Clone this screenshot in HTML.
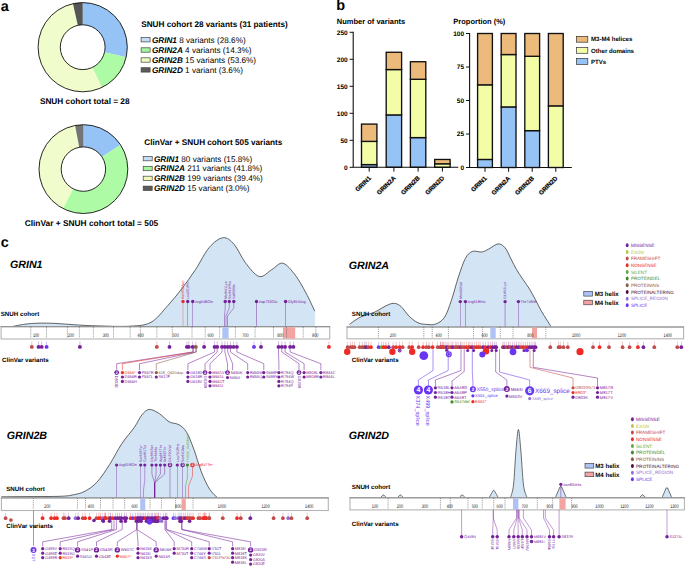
<!DOCTYPE html>
<html><head><meta charset="utf-8"><style>
html,body{margin:0;padding:0;background:#fff;overflow:hidden;width:685px;height:567px;}
svg{display:block;}
text{font-family:"Liberation Sans",sans-serif;text-rendering:geometricPrecision;}
</style></head><body>
<svg width="685" height="567" viewBox="0 0 685 567" font-family="Liberation Sans, sans-serif">
<rect width="685" height="567" fill="#fff"/>
<text x="0.70" y="10.80" font-size="14.5" font-weight="bold" fill="#000" >a</text>
<path d="M82.70,2.60 A44.6,44.6 0 0 1 126.16,57.20 L104.53,52.22 A22.4,22.4 0 0 0 82.70,24.80 Z" fill="#96c3f5"/>
<path d="M126.16,57.20 A44.6,44.6 0 0 1 101.94,87.44 L92.36,67.41 A22.4,22.4 0 0 0 104.53,52.22 Z" fill="#aefba6"/>
<path d="M101.94,87.44 A44.6,44.6 0 1 1 72.97,3.67 L77.81,25.34 A22.4,22.4 0 1 0 92.36,67.41 Z" fill="#f0fccb"/>
<path d="M72.97,3.67 A44.6,44.6 0 0 1 82.70,2.60 L82.70,24.80 A22.4,22.4 0 0 0 77.81,25.34 Z" fill="#555555"/>
<circle cx="82.7" cy="47.2" r="44.6" fill="none" stroke="#111" stroke-width="0.9"/>
<circle cx="82.7" cy="47.2" r="22.4" fill="none" stroke="#111" stroke-width="0.9"/>
<text x="141.20" y="26.50" font-size="8.2" font-weight="bold" fill="#000" >SNUH cohort 28 variants (31 patients)</text>
<rect x="141.1" y="37.50" width="9" height="4.4" fill="#c6ddf6" stroke="#444" stroke-width="0.7"/>
<text x="151.90" y="42.60" font-size="8.2"><tspan font-weight="bold" font-style="italic">GRIN1</tspan> 8 variants (28.6%)</text>
<rect x="141.1" y="47.80" width="9" height="4.4" fill="#a5f5a0" stroke="#444" stroke-width="0.7"/>
<text x="151.90" y="52.90" font-size="8.2"><tspan font-weight="bold" font-style="italic">GRIN2A</tspan> 4 variants (14.3%)</text>
<rect x="141.1" y="57.80" width="9" height="4.4" fill="#eefabb" stroke="#444" stroke-width="0.7"/>
<text x="151.90" y="62.90" font-size="8.2"><tspan font-weight="bold" font-style="italic">GRIN2B</tspan> 15 variants (53.6%)</text>
<rect x="141.1" y="67.70" width="9" height="4.4" fill="#5a5a5a" stroke="#444" stroke-width="0.7"/>
<text x="151.90" y="72.80" font-size="8.2"><tspan font-weight="bold" font-style="italic">GRIN2D</tspan> 1 variant (3.6%)</text>
<text x="39.90" y="103.70" font-size="8.25" font-weight="bold" fill="#000" >SNUH cohort total = 28</text>
<path d="M83.40,124.70 A44.4,44.4 0 0 1 120.59,144.84 L101.99,156.97 A22.2,22.2 0 0 0 83.40,146.90 Z" fill="#96c3f5"/>
<path d="M120.59,144.84 A44.4,44.4 0 0 1 62.99,208.53 L73.20,188.82 A22.2,22.2 0 0 0 101.99,156.97 Z" fill="#aefba6"/>
<path d="M62.99,208.53 A44.4,44.4 0 0 1 75.08,125.49 L79.24,147.29 A22.2,22.2 0 0 0 73.20,188.82 Z" fill="#f0fccb"/>
<path d="M75.08,125.49 A44.4,44.4 0 0 1 83.40,124.70 L83.40,146.90 A22.2,22.2 0 0 0 79.24,147.29 Z" fill="#747474"/>
<circle cx="83.4" cy="169.1" r="44.4" fill="none" stroke="#111" stroke-width="0.9"/>
<circle cx="83.4" cy="169.1" r="22.2" fill="none" stroke="#111" stroke-width="0.9"/>
<text x="144.30" y="144.60" font-size="8.2" font-weight="bold" fill="#000" >ClinVar + SNUH cohort 505 variants</text>
<rect x="143.2" y="156.40" width="9" height="4.4" fill="#c6ddf6" stroke="#444" stroke-width="0.7"/>
<text x="154.00" y="161.50" font-size="8.2"><tspan font-weight="bold" font-style="italic">GRIN1</tspan> 80 variants (15.8%)</text>
<rect x="143.2" y="166.30" width="9" height="4.4" fill="#a5f5a0" stroke="#444" stroke-width="0.7"/>
<text x="154.00" y="171.40" font-size="8.2"><tspan font-weight="bold" font-style="italic">GRIN2A</tspan> 211 variants (41.8%)</text>
<rect x="143.2" y="176.20" width="9" height="4.4" fill="#eefabb" stroke="#444" stroke-width="0.7"/>
<text x="154.00" y="181.30" font-size="8.2"><tspan font-weight="bold" font-style="italic">GRIN2B</tspan> 199 variants (39.4%)</text>
<rect x="143.2" y="186.10" width="9" height="4.4" fill="#5a5a5a" stroke="#444" stroke-width="0.7"/>
<text x="154.00" y="191.20" font-size="8.2"><tspan font-weight="bold" font-style="italic">GRIN2D</tspan> 15 variant (3.0%)</text>
<text x="24.70" y="226.40" font-size="8.35" font-weight="bold" fill="#000" >ClinVar + SNUH cohort total = 505</text>
<text x="336.20" y="9.90" font-size="14.5" font-weight="bold" fill="#000" >b</text>
<text x="336.80" y="24.10" font-size="7.5" font-weight="bold" fill="#000" >Number of variants</text>
<text x="453.30" y="24.30" font-size="7.5" font-weight="bold" fill="#000" >Proportion (%)</text>
<rect x="361.50" y="164.60" width="15.40" height="2.70" fill="#96c3f5" stroke="#111" stroke-width="1.35"/>
<rect x="361.50" y="141.38" width="15.40" height="23.22" fill="#f2fda6" stroke="#111" stroke-width="1.35"/>
<rect x="361.50" y="124.10" width="15.40" height="17.28" fill="#ecbb7c" stroke="#111" stroke-width="1.35"/>
<rect x="386.20" y="114.92" width="15.40" height="52.38" fill="#96c3f5" stroke="#111" stroke-width="1.35"/>
<rect x="386.20" y="69.56" width="15.40" height="45.36" fill="#f2fda6" stroke="#111" stroke-width="1.35"/>
<rect x="386.20" y="52.28" width="15.40" height="17.28" fill="#ecbb7c" stroke="#111" stroke-width="1.35"/>
<rect x="410.40" y="137.60" width="15.40" height="29.70" fill="#96c3f5" stroke="#111" stroke-width="1.35"/>
<rect x="410.40" y="79.28" width="15.40" height="58.32" fill="#f2fda6" stroke="#111" stroke-width="1.35"/>
<rect x="410.40" y="61.73" width="15.40" height="17.55" fill="#ecbb7c" stroke="#111" stroke-width="1.35"/>
<rect x="434.70" y="163.79" width="15.40" height="3.51" fill="#f2fda6" stroke="#111" stroke-width="1.35"/>
<rect x="434.70" y="159.47" width="15.40" height="4.32" fill="#ecbb7c" stroke="#111" stroke-width="1.35"/>
<path d="M353.2,31.80000000000001 V167.3 H458.3" fill="none" stroke="#111" stroke-width="1.1"/>
<line x1="349.59999999999997" y1="167.30" x2="353.2" y2="167.30" stroke="#111" stroke-width="1"/>
<text x="347.70" y="169.65" font-size="6.5" font-weight="bold" text-anchor="end" fill="#000" >0</text>
<line x1="349.59999999999997" y1="140.30" x2="353.2" y2="140.30" stroke="#111" stroke-width="1"/>
<text x="347.70" y="142.65" font-size="6.5" font-weight="bold" text-anchor="end" fill="#000" >50</text>
<line x1="349.59999999999997" y1="113.30" x2="353.2" y2="113.30" stroke="#111" stroke-width="1"/>
<text x="347.70" y="115.65" font-size="6.5" font-weight="bold" text-anchor="end" fill="#000" >100</text>
<line x1="349.59999999999997" y1="86.30" x2="353.2" y2="86.30" stroke="#111" stroke-width="1"/>
<text x="347.70" y="88.65" font-size="6.5" font-weight="bold" text-anchor="end" fill="#000" >150</text>
<line x1="349.59999999999997" y1="59.30" x2="353.2" y2="59.30" stroke="#111" stroke-width="1"/>
<text x="347.70" y="61.65" font-size="6.5" font-weight="bold" text-anchor="end" fill="#000" >200</text>
<line x1="349.59999999999997" y1="32.30" x2="353.2" y2="32.30" stroke="#111" stroke-width="1"/>
<text x="347.70" y="34.65" font-size="6.5" font-weight="bold" text-anchor="end" fill="#000" >250</text>
<line x1="369.2" y1="167.3" x2="369.2" y2="171.60000000000002" stroke="#111" stroke-width="1"/>
<text transform="translate(371.40,178.50) rotate(-45)" font-size="6.3" font-weight="bold" text-anchor="end" stroke="#000" stroke-width="0.18">GRIN1</text>
<line x1="393.9" y1="167.3" x2="393.9" y2="171.60000000000002" stroke="#111" stroke-width="1"/>
<text transform="translate(396.10,178.50) rotate(-45)" font-size="6.3" font-weight="bold" text-anchor="end" stroke="#000" stroke-width="0.18">GRIN2A</text>
<line x1="418.1" y1="167.3" x2="418.1" y2="171.60000000000002" stroke="#111" stroke-width="1"/>
<text transform="translate(420.30,178.50) rotate(-45)" font-size="6.3" font-weight="bold" text-anchor="end" stroke="#000" stroke-width="0.18">GRIN2B</text>
<line x1="442.4" y1="167.3" x2="442.4" y2="171.60000000000002" stroke="#111" stroke-width="1"/>
<text transform="translate(444.60,178.50) rotate(-45)" font-size="6.3" font-weight="bold" text-anchor="end" stroke="#000" stroke-width="0.18">GRIN2D</text>
<rect x="477.60" y="159.46" width="14.80" height="8.04" fill="#96c3f5" stroke="#111" stroke-width="1.35"/>
<rect x="477.60" y="84.82" width="14.80" height="74.64" fill="#f2fda6" stroke="#111" stroke-width="1.35"/>
<rect x="477.60" y="33.50" width="14.80" height="51.32" fill="#ecbb7c" stroke="#111" stroke-width="1.35"/>
<rect x="501.20" y="106.93" width="14.80" height="60.57" fill="#96c3f5" stroke="#111" stroke-width="1.35"/>
<rect x="501.20" y="54.54" width="14.80" height="52.39" fill="#f2fda6" stroke="#111" stroke-width="1.35"/>
<rect x="501.20" y="33.50" width="14.80" height="21.04" fill="#ecbb7c" stroke="#111" stroke-width="1.35"/>
<rect x="524.80" y="130.65" width="14.80" height="36.85" fill="#96c3f5" stroke="#111" stroke-width="1.35"/>
<rect x="524.80" y="56.28" width="14.80" height="74.37" fill="#f2fda6" stroke="#111" stroke-width="1.35"/>
<rect x="524.80" y="33.50" width="14.80" height="22.78" fill="#ecbb7c" stroke="#111" stroke-width="1.35"/>
<rect x="548.40" y="105.86" width="14.80" height="61.64" fill="#f2fda6" stroke="#111" stroke-width="1.35"/>
<rect x="548.40" y="33.50" width="14.80" height="72.36" fill="#ecbb7c" stroke="#111" stroke-width="1.35"/>
<path d="M469.6,33.0 V167.5 H571.8" fill="none" stroke="#111" stroke-width="1.1"/>
<line x1="466.0" y1="167.50" x2="469.6" y2="167.50" stroke="#111" stroke-width="1"/>
<text x="464.10" y="169.85" font-size="6.5" font-weight="bold" text-anchor="end" fill="#000" >0</text>
<line x1="466.0" y1="134.00" x2="469.6" y2="134.00" stroke="#111" stroke-width="1"/>
<text x="464.10" y="136.35" font-size="6.5" font-weight="bold" text-anchor="end" fill="#000" >25</text>
<line x1="466.0" y1="100.50" x2="469.6" y2="100.50" stroke="#111" stroke-width="1"/>
<text x="464.10" y="102.85" font-size="6.5" font-weight="bold" text-anchor="end" fill="#000" >50</text>
<line x1="466.0" y1="67.00" x2="469.6" y2="67.00" stroke="#111" stroke-width="1"/>
<text x="464.10" y="69.35" font-size="6.5" font-weight="bold" text-anchor="end" fill="#000" >75</text>
<line x1="466.0" y1="33.50" x2="469.6" y2="33.50" stroke="#111" stroke-width="1"/>
<text x="464.10" y="35.85" font-size="6.5" font-weight="bold" text-anchor="end" fill="#000" >100</text>
<line x1="485.0" y1="167.5" x2="485.0" y2="171.8" stroke="#111" stroke-width="1"/>
<text transform="translate(487.20,178.70) rotate(-45)" font-size="6.3" font-weight="bold" text-anchor="end" stroke="#000" stroke-width="0.18">GRIN1</text>
<line x1="508.6" y1="167.5" x2="508.6" y2="171.8" stroke="#111" stroke-width="1"/>
<text transform="translate(510.80,178.70) rotate(-45)" font-size="6.3" font-weight="bold" text-anchor="end" stroke="#000" stroke-width="0.18">GRIN2A</text>
<line x1="532.2" y1="167.5" x2="532.2" y2="171.8" stroke="#111" stroke-width="1"/>
<text transform="translate(534.40,178.70) rotate(-45)" font-size="6.3" font-weight="bold" text-anchor="end" stroke="#000" stroke-width="0.18">GRIN2B</text>
<line x1="555.8" y1="167.5" x2="555.8" y2="171.8" stroke="#111" stroke-width="1"/>
<text transform="translate(558.00,178.70) rotate(-45)" font-size="6.3" font-weight="bold" text-anchor="end" stroke="#000" stroke-width="0.18">GRIN2D</text>
<rect x="576.6" y="36.40" width="11.2" height="5.8" fill="#ecbb7c" stroke="#333" stroke-width="0.7"/>
<text x="591.00" y="41.40" font-size="6.1" font-weight="bold" fill="#000" >M3-M4 helices</text>
<rect x="576.6" y="47.50" width="11.2" height="5.8" fill="#f2fda6" stroke="#333" stroke-width="0.7"/>
<text x="591.00" y="52.50" font-size="6.1" font-weight="bold" fill="#000" >Other domains</text>
<rect x="576.6" y="58.60" width="11.2" height="5.8" fill="#96c3f5" stroke="#333" stroke-width="0.7"/>
<text x="591.00" y="63.60" font-size="6.1" font-weight="bold" fill="#000" >PTVs</text>
<text x="0.70" y="246.70" font-size="14.5" font-weight="bold" fill="#000" >c</text>
<path d="M13.00,326.40 C15.00,326.03 20.83,324.73 25.00,324.20 C29.17,323.67 33.00,323.33 38.00,323.20 C43.00,323.07 48.83,323.13 55.00,323.40 C61.17,323.67 68.33,324.40 75.00,324.80 C81.67,325.20 85.83,325.57 95.00,325.80 C104.17,326.03 120.67,326.78 130.00,326.20 C139.33,325.62 144.72,325.72 151.00,322.30 C157.28,318.88 162.60,311.25 167.70,305.70 C172.80,300.15 176.97,295.02 181.60,289.00 C186.23,282.98 190.88,276.53 195.50,269.60 C200.12,262.67 204.68,252.72 209.30,247.40 C213.92,242.08 219.03,238.17 223.20,237.70 C227.37,237.23 230.60,240.43 234.30,244.60 C238.00,248.77 241.23,257.38 245.40,262.70 C249.57,268.02 254.90,275.35 259.30,276.50 C263.70,277.65 267.87,271.82 271.80,269.60 C275.73,267.38 278.98,262.27 282.90,263.20 C286.82,264.13 291.45,270.23 295.30,275.20 C299.15,280.17 302.75,287.00 306.00,293.00 C309.25,299.00 313.33,308.17 314.80,311.20 L314.80,326.40 L13.00,326.40 Z" fill="#d3e5f5" stroke="none"/>
<path d="M13.00,326.40 C15.00,326.03 20.83,324.73 25.00,324.20 C29.17,323.67 33.00,323.33 38.00,323.20 C43.00,323.07 48.83,323.13 55.00,323.40 C61.17,323.67 68.33,324.40 75.00,324.80 C81.67,325.20 85.83,325.57 95.00,325.80 C104.17,326.03 120.67,326.78 130.00,326.20 C139.33,325.62 144.72,325.72 151.00,322.30 C157.28,318.88 162.60,311.25 167.70,305.70 C172.80,300.15 176.97,295.02 181.60,289.00 C186.23,282.98 190.88,276.53 195.50,269.60 C200.12,262.67 204.68,252.72 209.30,247.40 C213.92,242.08 219.03,238.17 223.20,237.70 C227.37,237.23 230.60,240.43 234.30,244.60 C238.00,248.77 241.23,257.38 245.40,262.70 C249.57,268.02 254.90,275.35 259.30,276.50 C263.70,277.65 267.87,271.82 271.80,269.60 C275.73,267.38 278.98,262.27 282.90,263.20 C286.82,264.13 291.45,270.23 295.30,275.20 C299.15,280.17 302.75,287.00 306.00,293.00 C309.25,299.00 313.33,308.17 314.80,311.20" fill="none" stroke="#333" stroke-width="0.75"/>
<line x1="314.8" y1="311.2" x2="314.8" y2="326.4" stroke="#d3e5f5" stroke-width="0.5"/>
<rect x="1.10" y="326.70" width="328.60" height="12.30" fill="#fff" stroke="#b4b4b4" stroke-width="1.1"/>
<line x1="0.60" y1="326.70" x2="330.20" y2="326.70" stroke="#8c8c8c" stroke-width="1.0"/>
<rect x="222.30" y="327.20" width="6.30" height="11.40" fill="#aec2f7"/>
<rect x="283.00" y="327.20" width="12.20" height="11.40" fill="#f4a3a3"/>
<line x1="30.80" y1="326.90" x2="30.80" y2="337.80" stroke="#444" stroke-width="0.6" stroke-dasharray="0.9,1.0"/>
<line x1="46.50" y1="326.90" x2="46.50" y2="337.80" stroke="#444" stroke-width="0.6" stroke-dasharray="0.9,1.0"/>
<line x1="67.40" y1="326.90" x2="67.40" y2="337.80" stroke="#444" stroke-width="0.6" stroke-dasharray="0.9,1.0"/>
<line x1="79.40" y1="326.90" x2="79.40" y2="337.80" stroke="#444" stroke-width="0.6" stroke-dasharray="0.9,1.0"/>
<line x1="93.40" y1="326.90" x2="93.40" y2="337.80" stroke="#444" stroke-width="0.6" stroke-dasharray="0.9,1.0"/>
<line x1="113.50" y1="326.90" x2="113.50" y2="337.80" stroke="#444" stroke-width="0.6" stroke-dasharray="0.9,1.0"/>
<line x1="130.20" y1="326.90" x2="130.20" y2="337.80" stroke="#444" stroke-width="0.6" stroke-dasharray="0.9,1.0"/>
<line x1="140.40" y1="326.90" x2="140.40" y2="337.80" stroke="#444" stroke-width="0.6" stroke-dasharray="0.9,1.0"/>
<line x1="156.90" y1="326.90" x2="156.90" y2="337.80" stroke="#444" stroke-width="0.6" stroke-dasharray="0.9,1.0"/>
<line x1="172.30" y1="326.90" x2="172.30" y2="337.80" stroke="#444" stroke-width="0.6" stroke-dasharray="0.9,1.0"/>
<line x1="192.00" y1="326.90" x2="192.00" y2="337.80" stroke="#444" stroke-width="0.6" stroke-dasharray="0.9,1.0"/>
<line x1="205.20" y1="326.90" x2="205.20" y2="337.80" stroke="#444" stroke-width="0.6" stroke-dasharray="0.9,1.0"/>
<line x1="219.60" y1="326.90" x2="219.60" y2="337.80" stroke="#444" stroke-width="0.6" stroke-dasharray="0.9,1.0"/>
<line x1="235.40" y1="326.90" x2="235.40" y2="337.80" stroke="#444" stroke-width="0.6" stroke-dasharray="0.9,1.0"/>
<line x1="255.10" y1="326.90" x2="255.10" y2="337.80" stroke="#444" stroke-width="0.6" stroke-dasharray="0.9,1.0"/>
<line x1="273.50" y1="326.90" x2="273.50" y2="337.80" stroke="#444" stroke-width="0.6" stroke-dasharray="0.9,1.0"/>
<line x1="286.50" y1="326.90" x2="286.50" y2="337.80" stroke="#444" stroke-width="0.6" stroke-dasharray="0.9,1.0"/>
<line x1="303.20" y1="326.90" x2="303.20" y2="337.80" stroke="#444" stroke-width="0.6" stroke-dasharray="0.9,1.0"/>
<line x1="315.90" y1="326.90" x2="315.90" y2="337.80" stroke="#444" stroke-width="0.6" stroke-dasharray="0.9,1.0"/>
<text transform="translate(36.00,336.70) scale(0.72,1)" font-size="5.2" text-anchor="middle" fill="#222">100</text>
<text transform="translate(70.90,336.70) scale(0.72,1)" font-size="5.2" text-anchor="middle" fill="#222">200</text>
<text transform="translate(105.80,336.70) scale(0.72,1)" font-size="5.2" text-anchor="middle" fill="#222">300</text>
<text transform="translate(140.70,336.70) scale(0.72,1)" font-size="5.2" text-anchor="middle" fill="#222">400</text>
<text transform="translate(175.60,336.70) scale(0.72,1)" font-size="5.2" text-anchor="middle" fill="#222">500</text>
<text transform="translate(210.50,336.70) scale(0.72,1)" font-size="5.2" text-anchor="middle" fill="#222">600</text>
<text transform="translate(245.40,336.70) scale(0.72,1)" font-size="5.2" text-anchor="middle" fill="#222">700</text>
<text transform="translate(280.30,336.70) scale(0.72,1)" font-size="5.2" text-anchor="middle" fill="#222">800</text>
<text transform="translate(315.20,336.70) scale(0.72,1)" font-size="5.2" text-anchor="middle" fill="#222">900</text>
<line x1="183" y1="301.5" x2="183" y2="326.4" stroke="#e86060" stroke-width="0.6" opacity="0.75"/>
<line x1="187.7" y1="301.5" x2="187.7" y2="326.4" stroke="#75219a" stroke-width="0.6" opacity="0.75"/>
<line x1="192.7" y1="301.5" x2="192.7" y2="326.4" stroke="#75219a" stroke-width="0.6" opacity="0.75"/>
<line x1="256.5" y1="301.5" x2="256.5" y2="326.4" stroke="#75219a" stroke-width="0.6" opacity="0.75"/>
<line x1="285.6" y1="301.5" x2="285.6" y2="326.4" stroke="#75219a" stroke-width="0.6" opacity="0.75"/>
<path d="M225.2,301.5 V308 L224.5,316 V326.4" fill="none" stroke="#75219a" stroke-width="0.6" opacity="0.75"/>
<path d="M229.3,301.5 V308 L226.0,316 V326.4" fill="none" stroke="#75219a" stroke-width="0.6" opacity="0.75"/>
<path d="M233.8,301.5 V308 L227.5,316 V326.4" fill="none" stroke="#75219a" stroke-width="0.6" opacity="0.75"/>
<circle cx="183" cy="301.5" r="1.7" fill="#ee2b25"/>
<circle cx="187.7" cy="301.5" r="1.7" fill="#75219a"/>
<circle cx="192.7" cy="301.5" r="1.7" fill="#75219a"/>
<circle cx="225.2" cy="301.5" r="1.7" fill="#75219a"/>
<circle cx="229.3" cy="301.5" r="1.7" fill="#75219a"/>
<circle cx="233.8" cy="301.5" r="1.7" fill="#75219a"/>
<circle cx="256.5" cy="301.5" r="1.7" fill="#75219a"/>
<circle cx="285.6" cy="301.5" r="1.7" fill="#75219a"/>
<text transform="translate(184.30,299.00) rotate(-90)" font-size="3.6" fill="#ee2b25">Asn650Asp</text>
<text transform="translate(189.00,299.00) rotate(-90)" font-size="3.6" fill="#75219a">Leu551Pro</text>
<text transform="translate(226.50,299.00) rotate(-90)" font-size="3.6" fill="#75219a">Met641Lys</text>
<text transform="translate(230.60,299.00) rotate(-90)" font-size="3.6" fill="#75219a">Ser642Phe</text>
<text transform="translate(235.10,299.00) rotate(-90)" font-size="3.6" fill="#75219a">Val656Ile</text>
<text x="194.90" y="302.80" font-size="3.8" fill="#75219a" >Arg548Gln</text>
<text x="258.70" y="302.80" font-size="3.8" fill="#75219a" >Asp732Glu</text>
<text x="287.80" y="302.80" font-size="3.8" fill="#75219a" >Gly815Arg</text>
<line x1="31.80" y1="341.40" x2="31.80" y2="346.90" stroke="#c24a4a" stroke-width="0.5" opacity="0.6"/>
<circle cx="31.80" cy="346.90" r="1.95" fill="#c24a4a"/>
<line x1="38.50" y1="341.40" x2="38.50" y2="346.90" stroke="#75219a" stroke-width="0.5" opacity="0.6"/>
<circle cx="38.50" cy="346.90" r="1.95" fill="#75219a"/>
<line x1="41.70" y1="341.40" x2="41.70" y2="346.90" stroke="#75219a" stroke-width="0.5" opacity="0.6"/>
<circle cx="41.70" cy="346.90" r="1.95" fill="#75219a"/>
<line x1="46.60" y1="341.40" x2="46.60" y2="346.90" stroke="#6a35f0" stroke-width="0.5" opacity="0.6"/>
<circle cx="46.60" cy="346.90" r="1.95" fill="#6a35f0"/>
<line x1="79.90" y1="341.40" x2="79.90" y2="346.90" stroke="#75219a" stroke-width="0.5" opacity="0.6"/>
<circle cx="79.90" cy="346.90" r="1.95" fill="#75219a"/>
<line x1="156.80" y1="341.40" x2="156.80" y2="346.90" stroke="#c24a4a" stroke-width="0.5" opacity="0.6"/>
<circle cx="156.80" cy="346.90" r="1.95" fill="#c24a4a"/>
<line x1="169.50" y1="341.40" x2="169.50" y2="346.90" stroke="#75219a" stroke-width="0.5" opacity="0.6"/>
<circle cx="169.50" cy="346.90" r="1.95" fill="#75219a"/>
<line x1="186.90" y1="341.40" x2="186.90" y2="346.90" stroke="#75219a" stroke-width="0.5" opacity="0.6"/>
<circle cx="186.90" cy="346.90" r="1.95" fill="#75219a"/>
<line x1="188.80" y1="341.40" x2="188.80" y2="346.90" stroke="#75219a" stroke-width="0.5" opacity="0.6"/>
<circle cx="188.80" cy="346.90" r="1.95" fill="#75219a"/>
<line x1="192.70" y1="341.40" x2="192.70" y2="346.90" stroke="#75219a" stroke-width="0.5" opacity="0.6"/>
<circle cx="192.70" cy="346.90" r="1.95" fill="#75219a"/>
<line x1="195.80" y1="341.40" x2="195.80" y2="346.90" stroke="#8a5a4a" stroke-width="0.5" opacity="0.6"/>
<circle cx="195.80" cy="346.90" r="1.95" fill="#8a5a4a"/>
<line x1="204.10" y1="341.40" x2="204.10" y2="346.90" stroke="#75219a" stroke-width="0.5" opacity="0.6"/>
<circle cx="204.10" cy="346.90" r="1.95" fill="#75219a"/>
<line x1="214.60" y1="341.40" x2="214.60" y2="346.90" stroke="#75219a" stroke-width="0.5" opacity="0.6"/>
<circle cx="214.60" cy="346.90" r="1.95" fill="#75219a"/>
<line x1="217.20" y1="341.40" x2="217.20" y2="346.90" stroke="#75219a" stroke-width="0.5" opacity="0.6"/>
<circle cx="217.20" cy="346.90" r="1.95" fill="#75219a"/>
<line x1="222.00" y1="341.40" x2="222.00" y2="346.90" stroke="#75219a" stroke-width="0.5" opacity="0.6"/>
<circle cx="222.00" cy="346.90" r="1.95" fill="#75219a"/>
<line x1="224.90" y1="341.40" x2="224.90" y2="346.90" stroke="#75219a" stroke-width="0.5" opacity="0.6"/>
<circle cx="224.90" cy="346.90" r="1.95" fill="#75219a"/>
<line x1="227.70" y1="341.40" x2="227.70" y2="346.90" stroke="#75219a" stroke-width="0.5" opacity="0.6"/>
<circle cx="227.70" cy="346.90" r="1.95" fill="#75219a"/>
<line x1="230.40" y1="341.40" x2="230.40" y2="346.90" stroke="#75219a" stroke-width="0.5" opacity="0.6"/>
<circle cx="230.40" cy="346.90" r="1.95" fill="#75219a"/>
<line x1="233.60" y1="341.40" x2="233.60" y2="346.90" stroke="#75219a" stroke-width="0.5" opacity="0.6"/>
<circle cx="233.60" cy="346.90" r="1.95" fill="#75219a"/>
<line x1="236.90" y1="341.40" x2="236.90" y2="346.90" stroke="#75219a" stroke-width="0.5" opacity="0.6"/>
<circle cx="236.90" cy="346.90" r="1.95" fill="#75219a"/>
<line x1="254.00" y1="341.40" x2="254.00" y2="346.90" stroke="#6a35f0" stroke-width="0.5" opacity="0.6"/>
<circle cx="254.00" cy="346.90" r="1.95" fill="#6a35f0"/>
<line x1="261.00" y1="341.40" x2="261.00" y2="346.90" stroke="#75219a" stroke-width="0.5" opacity="0.6"/>
<circle cx="261.00" cy="346.90" r="1.95" fill="#75219a"/>
<line x1="278.50" y1="341.40" x2="278.50" y2="346.90" stroke="#75219a" stroke-width="0.5" opacity="0.6"/>
<circle cx="278.50" cy="346.90" r="1.95" fill="#75219a"/>
<line x1="281.80" y1="341.40" x2="281.80" y2="346.90" stroke="#75219a" stroke-width="0.5" opacity="0.6"/>
<circle cx="281.80" cy="346.90" r="1.95" fill="#75219a"/>
<line x1="285.10" y1="341.40" x2="285.10" y2="346.90" stroke="#75219a" stroke-width="0.5" opacity="0.6"/>
<circle cx="285.10" cy="346.90" r="1.95" fill="#75219a"/>
<line x1="290.10" y1="341.40" x2="290.10" y2="346.90" stroke="#75219a" stroke-width="0.5" opacity="0.6"/>
<circle cx="290.10" cy="346.90" r="1.95" fill="#75219a"/>
<line x1="293.40" y1="341.40" x2="293.40" y2="346.90" stroke="#75219a" stroke-width="0.5" opacity="0.6"/>
<circle cx="293.40" cy="346.90" r="1.95" fill="#75219a"/>
<line x1="328.90" y1="341.40" x2="328.90" y2="346.90" stroke="#ee2b25" stroke-width="0.5" opacity="0.6"/>
<circle cx="328.90" cy="346.90" r="1.95" fill="#ee2b25"/>
<path d="M192.70,348.50 V352.00 L116.70,363.70 V370.20" fill="none" stroke="#75219a" stroke-width="0.55"/>
<path d="M193.50,348.50 V352.00 L122.40,363.70 V370.20" fill="none" stroke="#ee2b25" stroke-width="0.55"/>
<path d="M195.80,348.50 V352.00 L139.50,363.70 V370.20" fill="none" stroke="#75219a" stroke-width="0.55"/>
<path d="M196.50,348.50 V352.00 L156.30,363.70 V370.20" fill="none" stroke="#8a5a4a" stroke-width="0.55"/>
<path d="M214.60,348.50 V352.00 L187.90,363.70 V370.20" fill="none" stroke="#75219a" stroke-width="0.55"/>
<path d="M217.20,348.50 V352.00 L205.00,363.70 V370.20" fill="none" stroke="#75219a" stroke-width="0.55"/>
<path d="M222.00,348.50 V352.00 L210.00,363.70 V370.20" fill="none" stroke="#75219a" stroke-width="0.55"/>
<path d="M224.90,348.50 V352.00 L227.50,363.70 V370.20" fill="none" stroke="#75219a" stroke-width="0.55"/>
<path d="M227.70,348.50 V352.00 L232.60,363.70 V370.20" fill="none" stroke="#75219a" stroke-width="0.55"/>
<path d="M230.40,348.50 V352.00 L247.70,363.70 V370.20" fill="none" stroke="#75219a" stroke-width="0.55"/>
<path d="M236.90,348.50 V352.00 L263.80,363.70 V370.20" fill="none" stroke="#75219a" stroke-width="0.55"/>
<path d="M278.50,348.50 V352.00 L278.90,363.70 V370.20" fill="none" stroke="#75219a" stroke-width="0.55"/>
<path d="M281.80,348.50 V352.00 L299.00,363.70 V370.20" fill="none" stroke="#75219a" stroke-width="0.55"/>
<path d="M285.10,348.50 V352.00 L304.10,363.70 V370.20" fill="none" stroke="#75219a" stroke-width="0.55"/>
<path d="M290.10,348.50 V352.00 L320.90,363.70 V370.20" fill="none" stroke="#75219a" stroke-width="0.55"/>
<circle cx="116.70" cy="372.60" r="2.4" fill="#75219a"/>
<text x="116.70" y="373.90" font-size="3.60" font-weight="bold" fill="#fff" text-anchor="middle">2</text>
<text transform="translate(115.26,375.80) rotate(90)" font-size="4.0" fill="#75219a">D552E</text>
<circle cx="122.40" cy="372.60" r="1.6" fill="#ee2b25"/>
<text x="124.60" y="374.00" font-size="3.9" fill="#ee2b25">D556*</text>
<circle cx="122.40" cy="377.00" r="1.6" fill="#75219a"/>
<text x="124.60" y="378.40" font-size="3.9" fill="#75219a">D556R</text>
<circle cx="122.40" cy="381.40" r="1.6" fill="#75219a"/>
<text x="124.60" y="382.80" font-size="3.9" fill="#75219a">D556H</text>
<circle cx="139.50" cy="372.60" r="1.6" fill="#75219a"/>
<text x="141.70" y="374.00" font-size="3.9" fill="#75219a">P557R</text>
<circle cx="139.50" cy="377.00" r="1.6" fill="#75219a"/>
<text x="141.70" y="378.40" font-size="3.9" fill="#75219a">P557L</text>
<circle cx="156.30" cy="372.60" r="1.6" fill="#8a5a4a"/>
<text x="158.50" y="374.00" font-size="3.9" fill="#8a5a4a">618_Q620dup</text>
<circle cx="156.30" cy="377.00" r="1.6" fill="#75219a"/>
<text x="158.50" y="378.40" font-size="3.9" fill="#75219a">S617F</text>
<circle cx="187.90" cy="372.60" r="1.6" fill="#75219a"/>
<text x="190.10" y="374.00" font-size="3.9" fill="#75219a">G618D</text>
<circle cx="187.90" cy="377.00" r="1.6" fill="#75219a"/>
<text x="190.10" y="378.40" font-size="3.9" fill="#75219a">G618R</text>
<circle cx="187.90" cy="381.40" r="1.6" fill="#75219a"/>
<text x="190.10" y="382.80" font-size="3.9" fill="#75219a">G618V</text>
<circle cx="205.00" cy="372.60" r="2.4" fill="#75219a"/>
<text x="205.00" y="373.90" font-size="3.60" font-weight="bold" fill="#fff" text-anchor="middle">2</text>
<text transform="translate(203.56,375.80) rotate(90)" font-size="4.0" fill="#75219a">G620R</text>
<circle cx="210.00" cy="372.60" r="1.6" fill="#75219a"/>
<text x="212.20" y="374.00" font-size="3.9" fill="#75219a">M641V</text>
<circle cx="210.00" cy="377.00" r="1.6" fill="#75219a"/>
<text x="212.20" y="378.40" font-size="3.9" fill="#75219a">M641L</text>
<circle cx="210.00" cy="381.40" r="1.6" fill="#75219a"/>
<text x="212.20" y="382.80" font-size="3.9" fill="#75219a">M641T</text>
<circle cx="210.00" cy="385.80" r="1.6" fill="#75219a"/>
<text x="212.20" y="387.20" font-size="3.9" fill="#75219a">M641I</text>
<circle cx="227.50" cy="372.60" r="2.4" fill="#75219a"/>
<text x="227.50" y="373.90" font-size="3.60" font-weight="bold" fill="#fff" text-anchor="middle">2</text>
<text x="230.70" y="374.00" font-size="3.9" fill="#75219a">N650K</text>
<circle cx="227.50" cy="377.48" r="1.6" fill="#75219a"/>
<text x="229.70" y="378.88" font-size="3.9" fill="#75219a">N650I</text>
<circle cx="247.70" cy="372.60" r="1.6" fill="#75219a"/>
<text x="249.90" y="374.00" font-size="3.9" fill="#75219a">R655W</text>
<circle cx="247.70" cy="377.00" r="1.6" fill="#75219a"/>
<text x="249.90" y="378.40" font-size="3.9" fill="#75219a">R655Q</text>
<circle cx="263.80" cy="372.60" r="1.6" fill="#75219a"/>
<text x="266.00" y="374.00" font-size="3.9" fill="#75219a">S688P</text>
<circle cx="263.80" cy="377.00" r="1.6" fill="#75219a"/>
<text x="266.00" y="378.40" font-size="3.9" fill="#75219a">S688Y</text>
<circle cx="278.90" cy="372.60" r="1.6" fill="#75219a"/>
<text x="281.10" y="374.00" font-size="3.9" fill="#75219a">R794Q</text>
<circle cx="278.90" cy="377.00" r="1.6" fill="#75219a"/>
<text x="281.10" y="378.40" font-size="3.9" fill="#75219a">R794W</text>
<circle cx="278.90" cy="381.40" r="1.6" fill="#75219a"/>
<text x="281.10" y="382.80" font-size="3.9" fill="#75219a">R794Q</text>
<circle cx="278.90" cy="385.80" r="1.6" fill="#75219a"/>
<text x="281.10" y="387.20" font-size="3.9" fill="#75219a">R794P</text>
<circle cx="299.00" cy="372.60" r="2.4" fill="#75219a"/>
<text x="299.00" y="373.90" font-size="3.60" font-weight="bold" fill="#fff" text-anchor="middle">2</text>
<text transform="translate(297.56,375.80) rotate(90)" font-size="4.0" fill="#75219a">G815R</text>
<circle cx="304.10" cy="372.60" r="1.6" fill="#75219a"/>
<text x="306.30" y="374.00" font-size="3.9" fill="#75219a">M818L</text>
<circle cx="304.10" cy="377.00" r="1.6" fill="#75219a"/>
<text x="306.30" y="378.40" font-size="3.9" fill="#75219a">M818R</text>
<circle cx="320.90" cy="372.60" r="1.6" fill="#75219a"/>
<text x="323.10" y="374.00" font-size="3.9" fill="#75219a">R844C</text>
<circle cx="320.90" cy="377.00" r="1.6" fill="#75219a"/>
<text x="323.10" y="378.40" font-size="3.9" fill="#75219a">R844L</text>
<path d="M349.40,324.30 C350.33,323.65 353.07,321.65 355.00,320.40 C356.93,319.15 358.83,317.80 361.00,316.80 C363.17,315.80 365.67,315.20 368.00,314.40 C370.33,313.60 372.67,313.07 375.00,312.00 C377.33,310.93 379.75,309.23 382.00,308.00 C384.25,306.77 386.40,305.37 388.50,304.60 C390.60,303.83 392.52,303.08 394.60,303.40 C396.68,303.72 398.57,304.35 401.00,306.50 C403.43,308.65 406.37,313.58 409.20,316.30 C412.03,319.02 415.07,321.45 418.00,322.80 C420.93,324.15 423.88,324.18 426.80,324.40 C429.72,324.62 432.57,325.25 435.50,324.10 C438.43,322.95 441.75,321.45 444.40,317.50 C447.05,313.55 449.07,307.15 451.40,300.40 C453.73,293.65 456.07,284.00 458.40,277.00 C460.73,270.00 463.07,262.67 465.40,258.40 C467.73,254.13 469.67,252.47 472.40,251.40 C475.13,250.33 479.07,252.40 481.80,252.00 C484.53,251.60 486.08,250.35 488.80,249.00 C491.52,247.65 495.38,244.10 498.10,243.90 C500.82,243.70 502.95,245.28 505.10,247.80 C507.25,250.32 509.10,255.38 511.00,259.00 C512.90,262.62 514.50,266.08 516.50,269.50 C518.50,272.92 520.83,276.25 523.00,279.50 C525.17,282.75 527.42,285.62 529.50,289.00 C531.58,292.38 533.58,296.22 535.50,299.80 C537.42,303.38 539.10,307.13 541.00,310.50 C542.90,313.87 545.23,317.33 546.90,320.00 C548.57,322.67 550.32,325.42 551.00,326.50 L551.00,326.70 L349.40,326.70 Z" fill="#d3e5f5" stroke="none"/>
<path d="M349.40,324.30 C350.33,323.65 353.07,321.65 355.00,320.40 C356.93,319.15 358.83,317.80 361.00,316.80 C363.17,315.80 365.67,315.20 368.00,314.40 C370.33,313.60 372.67,313.07 375.00,312.00 C377.33,310.93 379.75,309.23 382.00,308.00 C384.25,306.77 386.40,305.37 388.50,304.60 C390.60,303.83 392.52,303.08 394.60,303.40 C396.68,303.72 398.57,304.35 401.00,306.50 C403.43,308.65 406.37,313.58 409.20,316.30 C412.03,319.02 415.07,321.45 418.00,322.80 C420.93,324.15 423.88,324.18 426.80,324.40 C429.72,324.62 432.57,325.25 435.50,324.10 C438.43,322.95 441.75,321.45 444.40,317.50 C447.05,313.55 449.07,307.15 451.40,300.40 C453.73,293.65 456.07,284.00 458.40,277.00 C460.73,270.00 463.07,262.67 465.40,258.40 C467.73,254.13 469.67,252.47 472.40,251.40 C475.13,250.33 479.07,252.40 481.80,252.00 C484.53,251.60 486.08,250.35 488.80,249.00 C491.52,247.65 495.38,244.10 498.10,243.90 C500.82,243.70 502.95,245.28 505.10,247.80 C507.25,250.32 509.10,255.38 511.00,259.00 C512.90,262.62 514.50,266.08 516.50,269.50 C518.50,272.92 520.83,276.25 523.00,279.50 C525.17,282.75 527.42,285.62 529.50,289.00 C531.58,292.38 533.58,296.22 535.50,299.80 C537.42,303.38 539.10,307.13 541.00,310.50 C542.90,313.87 545.23,317.33 546.90,320.00 C548.57,322.67 550.32,325.42 551.00,326.50" fill="none" stroke="#333" stroke-width="0.75"/>
<rect x="347.00" y="327.00" width="336.60" height="11.80" fill="#fff" stroke="#b4b4b4" stroke-width="1.1"/>
<line x1="346.50" y1="327.00" x2="684.10" y2="327.00" stroke="#8c8c8c" stroke-width="1.0"/>
<rect x="490.30" y="327.50" width="5.40" height="10.90" fill="#aec2f7"/>
<rect x="532.00" y="327.50" width="5.00" height="10.90" fill="#f4a3a3"/>
<line x1="378.40" y1="327.20" x2="378.40" y2="337.60" stroke="#444" stroke-width="0.6" stroke-dasharray="0.9,1.0"/>
<line x1="423.80" y1="327.20" x2="423.80" y2="337.60" stroke="#444" stroke-width="0.6" stroke-dasharray="0.9,1.0"/>
<line x1="432.20" y1="327.20" x2="432.20" y2="337.60" stroke="#444" stroke-width="0.6" stroke-dasharray="0.9,1.0"/>
<line x1="448.40" y1="327.20" x2="448.40" y2="337.60" stroke="#444" stroke-width="0.6" stroke-dasharray="0.9,1.0"/>
<line x1="473.50" y1="327.20" x2="473.50" y2="337.60" stroke="#444" stroke-width="0.6" stroke-dasharray="0.9,1.0"/>
<line x1="482.60" y1="327.20" x2="482.60" y2="337.60" stroke="#444" stroke-width="0.6" stroke-dasharray="0.9,1.0"/>
<line x1="500.30" y1="327.20" x2="500.30" y2="337.60" stroke="#444" stroke-width="0.6" stroke-dasharray="0.9,1.0"/>
<line x1="513.00" y1="327.20" x2="513.00" y2="337.60" stroke="#444" stroke-width="0.6" stroke-dasharray="0.9,1.0"/>
<line x1="545.80" y1="327.20" x2="545.80" y2="337.60" stroke="#444" stroke-width="0.6" stroke-dasharray="0.9,1.0"/>
<text transform="translate(392.90,336.50) scale(0.72,1)" font-size="5.2" text-anchor="middle" fill="#222">200</text>
<text transform="translate(438.70,336.50) scale(0.72,1)" font-size="5.2" text-anchor="middle" fill="#222">400</text>
<text transform="translate(484.50,336.50) scale(0.72,1)" font-size="5.2" text-anchor="middle" fill="#222">600</text>
<text transform="translate(530.30,336.50) scale(0.72,1)" font-size="5.2" text-anchor="middle" fill="#222">800</text>
<text transform="translate(576.10,336.50) scale(0.72,1)" font-size="5.2" text-anchor="middle" fill="#222">1000</text>
<text transform="translate(621.90,336.50) scale(0.72,1)" font-size="5.2" text-anchor="middle" fill="#222">1200</text>
<text transform="translate(667.70,336.50) scale(0.72,1)" font-size="5.2" text-anchor="middle" fill="#222">1400</text>
<line x1="460.3" y1="301.6" x2="460.3" y2="326.7" stroke="#75219a" stroke-width="0.6" opacity="0.75"/>
<circle cx="460.3" cy="301.6" r="1.7" fill="#75219a"/>
<line x1="465.4" y1="301.6" x2="465.4" y2="326.7" stroke="#75219a" stroke-width="0.6" opacity="0.75"/>
<circle cx="465.4" cy="301.6" r="1.7" fill="#75219a"/>
<line x1="505.1" y1="301.6" x2="505.1" y2="326.7" stroke="#75219a" stroke-width="0.6" opacity="0.75"/>
<circle cx="505.1" cy="301.6" r="1.7" fill="#75219a"/>
<line x1="518.4" y1="301.6" x2="518.4" y2="326.7" stroke="#75219a" stroke-width="0.6" opacity="0.75"/>
<circle cx="518.4" cy="301.6" r="1.7" fill="#75219a"/>
<text transform="translate(461.60,299.10) rotate(-90)" font-size="3.6" fill="#75219a">Met490Val</text>
<text transform="translate(506.40,299.10) rotate(-90)" font-size="3.6" fill="#75219a">Glu691Lys</text>
<text x="467.60" y="302.90" font-size="3.8" fill="#75219a" >Arg518His</text>
<text x="520.60" y="302.90" font-size="3.8" fill="#75219a" >Thr749Ile</text>
<line x1="347.63" y1="341.70" x2="347.63" y2="347.20" stroke="#c24a4a" stroke-width="0.5" opacity="0.6"/>
<circle cx="347.63" cy="347.20" r="1.85" fill="#c24a4a"/>
<line x1="350.55" y1="341.70" x2="350.55" y2="347.20" stroke="#c24a4a" stroke-width="0.5" opacity="0.6"/>
<circle cx="350.55" cy="347.20" r="1.85" fill="#c24a4a"/>
<line x1="352.59" y1="341.70" x2="352.59" y2="347.20" stroke="#c24a4a" stroke-width="0.5" opacity="0.6"/>
<circle cx="352.59" cy="347.20" r="1.85" fill="#c24a4a"/>
<line x1="354.49" y1="341.70" x2="354.49" y2="347.20" stroke="#c24a4a" stroke-width="0.5" opacity="0.6"/>
<circle cx="354.49" cy="347.20" r="1.85" fill="#c24a4a"/>
<line x1="359.60" y1="341.70" x2="359.60" y2="347.20" stroke="#c24a4a" stroke-width="0.5" opacity="0.6"/>
<circle cx="359.60" cy="347.20" r="1.85" fill="#c24a4a"/>
<line x1="362.23" y1="341.70" x2="362.23" y2="347.20" stroke="#c24a4a" stroke-width="0.5" opacity="0.6"/>
<circle cx="362.23" cy="347.20" r="1.85" fill="#c24a4a"/>
<line x1="364.42" y1="341.70" x2="364.42" y2="347.20" stroke="#8a5a4a" stroke-width="0.5" opacity="0.6"/>
<circle cx="364.42" cy="347.20" r="1.85" fill="#8a5a4a"/>
<line x1="366.17" y1="341.70" x2="366.17" y2="347.20" stroke="#75219a" stroke-width="0.5" opacity="0.6"/>
<circle cx="366.17" cy="347.20" r="1.85" fill="#75219a"/>
<line x1="368.36" y1="341.70" x2="368.36" y2="347.20" stroke="#c24a4a" stroke-width="0.5" opacity="0.6"/>
<circle cx="368.36" cy="347.20" r="1.85" fill="#c24a4a"/>
<line x1="370.99" y1="341.70" x2="370.99" y2="347.20" stroke="#ee2b25" stroke-width="0.5" opacity="0.6"/>
<circle cx="370.99" cy="347.20" r="1.85" fill="#ee2b25"/>
<line x1="378.58" y1="341.70" x2="378.58" y2="347.20" stroke="#6a35f0" stroke-width="0.5" opacity="0.6"/>
<circle cx="378.58" cy="347.20" r="1.85" fill="#6a35f0"/>
<line x1="381.50" y1="341.70" x2="381.50" y2="347.20" stroke="#5aaa44" stroke-width="0.5" opacity="0.6"/>
<circle cx="381.50" cy="347.20" r="1.85" fill="#5aaa44"/>
<line x1="383.69" y1="341.70" x2="383.69" y2="347.20" stroke="#ee2b25" stroke-width="0.5" opacity="0.6"/>
<circle cx="383.69" cy="347.20" r="1.85" fill="#ee2b25"/>
<line x1="385.88" y1="341.70" x2="385.88" y2="347.20" stroke="#ee2b25" stroke-width="0.5" opacity="0.6"/>
<circle cx="385.88" cy="347.20" r="1.85" fill="#ee2b25"/>
<line x1="388.80" y1="341.70" x2="388.80" y2="347.20" stroke="#75219a" stroke-width="0.5" opacity="0.6"/>
<circle cx="388.80" cy="347.20" r="1.85" fill="#75219a"/>
<line x1="393.18" y1="341.70" x2="393.18" y2="347.20" stroke="#c24a4a" stroke-width="0.5" opacity="0.6"/>
<circle cx="393.18" cy="347.20" r="1.85" fill="#c24a4a"/>
<line x1="396.09" y1="341.70" x2="396.09" y2="347.20" stroke="#ee2b25" stroke-width="0.5" opacity="0.6"/>
<circle cx="396.09" cy="347.20" r="1.85" fill="#ee2b25"/>
<line x1="399.74" y1="341.70" x2="399.74" y2="347.20" stroke="#ee2b25" stroke-width="0.5" opacity="0.6"/>
<circle cx="399.74" cy="347.20" r="1.85" fill="#ee2b25"/>
<line x1="402.66" y1="341.70" x2="402.66" y2="347.20" stroke="#c24a4a" stroke-width="0.5" opacity="0.6"/>
<circle cx="402.66" cy="347.20" r="1.85" fill="#c24a4a"/>
<line x1="409.23" y1="341.70" x2="409.23" y2="347.20" stroke="#c24a4a" stroke-width="0.5" opacity="0.6"/>
<circle cx="409.23" cy="347.20" r="1.85" fill="#c24a4a"/>
<line x1="412.15" y1="341.70" x2="412.15" y2="347.20" stroke="#ee2b25" stroke-width="0.5" opacity="0.6"/>
<circle cx="412.15" cy="347.20" r="1.85" fill="#ee2b25"/>
<line x1="418.72" y1="341.70" x2="418.72" y2="347.20" stroke="#c24a4a" stroke-width="0.5" opacity="0.6"/>
<circle cx="418.72" cy="347.20" r="1.85" fill="#c24a4a"/>
<line x1="423.10" y1="341.70" x2="423.10" y2="347.20" stroke="#ee2b25" stroke-width="0.5" opacity="0.6"/>
<circle cx="423.10" cy="347.20" r="1.85" fill="#ee2b25"/>
<line x1="426.46" y1="341.70" x2="426.46" y2="347.20" stroke="#c24a4a" stroke-width="0.5" opacity="0.6"/>
<circle cx="426.46" cy="347.20" r="1.85" fill="#c24a4a"/>
<line x1="428.94" y1="341.70" x2="428.94" y2="347.20" stroke="#c24a4a" stroke-width="0.5" opacity="0.6"/>
<circle cx="428.94" cy="347.20" r="1.85" fill="#c24a4a"/>
<line x1="432.59" y1="341.70" x2="432.59" y2="347.20" stroke="#ee2b25" stroke-width="0.5" opacity="0.6"/>
<circle cx="432.59" cy="347.20" r="1.85" fill="#ee2b25"/>
<line x1="437.70" y1="341.70" x2="437.70" y2="347.20" stroke="#c24a4a" stroke-width="0.5" opacity="0.6"/>
<circle cx="437.70" cy="347.20" r="1.85" fill="#c24a4a"/>
<line x1="440.62" y1="341.70" x2="440.62" y2="347.20" stroke="#75219a" stroke-width="0.5" opacity="0.6"/>
<circle cx="440.62" cy="347.20" r="1.85" fill="#75219a"/>
<line x1="442.81" y1="341.70" x2="442.81" y2="347.20" stroke="#c24a4a" stroke-width="0.5" opacity="0.6"/>
<circle cx="442.81" cy="347.20" r="1.85" fill="#c24a4a"/>
<line x1="440.73" y1="341.70" x2="440.73" y2="347.20" stroke="#c24a4a" stroke-width="0.5" opacity="0.6"/>
<circle cx="440.73" cy="347.20" r="1.85" fill="#c24a4a"/>
<line x1="442.19" y1="341.70" x2="442.19" y2="347.20" stroke="#ee2b25" stroke-width="0.5" opacity="0.6"/>
<circle cx="442.19" cy="347.20" r="1.85" fill="#ee2b25"/>
<line x1="443.65" y1="341.70" x2="443.65" y2="347.20" stroke="#c24a4a" stroke-width="0.5" opacity="0.6"/>
<circle cx="443.65" cy="347.20" r="1.85" fill="#c24a4a"/>
<line x1="445.11" y1="341.70" x2="445.11" y2="347.20" stroke="#c24a4a" stroke-width="0.5" opacity="0.6"/>
<circle cx="445.11" cy="347.20" r="1.85" fill="#c24a4a"/>
<line x1="447.01" y1="341.70" x2="447.01" y2="347.20" stroke="#75219a" stroke-width="0.5" opacity="0.6"/>
<circle cx="447.01" cy="347.20" r="1.85" fill="#75219a"/>
<line x1="448.76" y1="341.70" x2="448.76" y2="347.20" stroke="#c24a4a" stroke-width="0.5" opacity="0.6"/>
<circle cx="448.76" cy="347.20" r="1.85" fill="#c24a4a"/>
<line x1="450.95" y1="341.70" x2="450.95" y2="347.20" stroke="#c24a4a" stroke-width="0.5" opacity="0.6"/>
<circle cx="450.95" cy="347.20" r="1.85" fill="#c24a4a"/>
<line x1="452.85" y1="341.70" x2="452.85" y2="347.20" stroke="#75219a" stroke-width="0.5" opacity="0.6"/>
<circle cx="452.85" cy="347.20" r="1.85" fill="#75219a"/>
<line x1="455.33" y1="341.70" x2="455.33" y2="347.20" stroke="#c24a4a" stroke-width="0.5" opacity="0.6"/>
<circle cx="455.33" cy="347.20" r="1.85" fill="#c24a4a"/>
<line x1="456.79" y1="341.70" x2="456.79" y2="347.20" stroke="#c24a4a" stroke-width="0.5" opacity="0.6"/>
<circle cx="456.79" cy="347.20" r="1.85" fill="#c24a4a"/>
<line x1="458.25" y1="341.70" x2="458.25" y2="347.20" stroke="#c24a4a" stroke-width="0.5" opacity="0.6"/>
<circle cx="458.25" cy="347.20" r="1.85" fill="#c24a4a"/>
<line x1="460.44" y1="341.70" x2="460.44" y2="347.20" stroke="#75219a" stroke-width="0.5" opacity="0.6"/>
<circle cx="460.44" cy="347.20" r="1.85" fill="#75219a"/>
<line x1="461.90" y1="341.70" x2="461.90" y2="347.20" stroke="#c24a4a" stroke-width="0.5" opacity="0.6"/>
<circle cx="461.90" cy="347.20" r="1.85" fill="#c24a4a"/>
<line x1="464.09" y1="341.70" x2="464.09" y2="347.20" stroke="#c24a4a" stroke-width="0.5" opacity="0.6"/>
<circle cx="464.09" cy="347.20" r="1.85" fill="#c24a4a"/>
<line x1="466.28" y1="341.70" x2="466.28" y2="347.20" stroke="#ee2b25" stroke-width="0.5" opacity="0.6"/>
<circle cx="466.28" cy="347.20" r="1.85" fill="#ee2b25"/>
<line x1="468.47" y1="341.70" x2="468.47" y2="347.20" stroke="#c24a4a" stroke-width="0.5" opacity="0.6"/>
<circle cx="468.47" cy="347.20" r="1.85" fill="#c24a4a"/>
<line x1="469.93" y1="341.70" x2="469.93" y2="347.20" stroke="#ee2b25" stroke-width="0.5" opacity="0.6"/>
<circle cx="469.93" cy="347.20" r="1.85" fill="#ee2b25"/>
<line x1="472.12" y1="341.70" x2="472.12" y2="347.20" stroke="#75219a" stroke-width="0.5" opacity="0.6"/>
<circle cx="472.12" cy="347.20" r="1.85" fill="#75219a"/>
<line x1="474.31" y1="341.70" x2="474.31" y2="347.20" stroke="#c24a4a" stroke-width="0.5" opacity="0.6"/>
<circle cx="474.31" cy="347.20" r="1.85" fill="#c24a4a"/>
<line x1="476.50" y1="341.70" x2="476.50" y2="347.20" stroke="#ee2b25" stroke-width="0.5" opacity="0.6"/>
<circle cx="476.50" cy="347.20" r="1.85" fill="#ee2b25"/>
<line x1="478.69" y1="341.70" x2="478.69" y2="347.20" stroke="#ee2b25" stroke-width="0.5" opacity="0.6"/>
<circle cx="478.69" cy="347.20" r="1.85" fill="#ee2b25"/>
<line x1="480.15" y1="341.70" x2="480.15" y2="347.20" stroke="#c24a4a" stroke-width="0.5" opacity="0.6"/>
<circle cx="480.15" cy="347.20" r="1.85" fill="#c24a4a"/>
<line x1="483.07" y1="341.70" x2="483.07" y2="347.20" stroke="#75219a" stroke-width="0.5" opacity="0.6"/>
<circle cx="483.07" cy="347.20" r="1.85" fill="#75219a"/>
<line x1="485.26" y1="341.70" x2="485.26" y2="347.20" stroke="#ee2b25" stroke-width="0.5" opacity="0.6"/>
<circle cx="485.26" cy="347.20" r="1.85" fill="#ee2b25"/>
<line x1="488.18" y1="341.70" x2="488.18" y2="347.20" stroke="#75219a" stroke-width="0.5" opacity="0.6"/>
<circle cx="488.18" cy="347.20" r="1.85" fill="#75219a"/>
<line x1="490.36" y1="341.70" x2="490.36" y2="347.20" stroke="#ee2b25" stroke-width="0.5" opacity="0.6"/>
<circle cx="490.36" cy="347.20" r="1.85" fill="#ee2b25"/>
<line x1="492.55" y1="341.70" x2="492.55" y2="347.20" stroke="#75219a" stroke-width="0.5" opacity="0.6"/>
<circle cx="492.55" cy="347.20" r="1.85" fill="#75219a"/>
<line x1="494.74" y1="341.70" x2="494.74" y2="347.20" stroke="#75219a" stroke-width="0.5" opacity="0.6"/>
<circle cx="494.74" cy="347.20" r="1.85" fill="#75219a"/>
<line x1="496.20" y1="341.70" x2="496.20" y2="347.20" stroke="#75219a" stroke-width="0.5" opacity="0.6"/>
<circle cx="496.20" cy="347.20" r="1.85" fill="#75219a"/>
<line x1="502.77" y1="341.70" x2="502.77" y2="347.20" stroke="#c24a4a" stroke-width="0.5" opacity="0.6"/>
<circle cx="502.77" cy="347.20" r="1.85" fill="#c24a4a"/>
<line x1="504.23" y1="341.70" x2="504.23" y2="347.20" stroke="#75219a" stroke-width="0.5" opacity="0.6"/>
<circle cx="504.23" cy="347.20" r="1.85" fill="#75219a"/>
<line x1="506.42" y1="341.70" x2="506.42" y2="347.20" stroke="#c24a4a" stroke-width="0.5" opacity="0.6"/>
<circle cx="506.42" cy="347.20" r="1.85" fill="#c24a4a"/>
<line x1="508.61" y1="341.70" x2="508.61" y2="347.20" stroke="#75219a" stroke-width="0.5" opacity="0.6"/>
<circle cx="508.61" cy="347.20" r="1.85" fill="#75219a"/>
<line x1="510.07" y1="341.70" x2="510.07" y2="347.20" stroke="#c24a4a" stroke-width="0.5" opacity="0.6"/>
<circle cx="510.07" cy="347.20" r="1.85" fill="#c24a4a"/>
<line x1="512.26" y1="341.70" x2="512.26" y2="347.20" stroke="#75219a" stroke-width="0.5" opacity="0.6"/>
<circle cx="512.26" cy="347.20" r="1.85" fill="#75219a"/>
<line x1="514.45" y1="341.70" x2="514.45" y2="347.20" stroke="#c24a4a" stroke-width="0.5" opacity="0.6"/>
<circle cx="514.45" cy="347.20" r="1.85" fill="#c24a4a"/>
<line x1="516.64" y1="341.70" x2="516.64" y2="347.20" stroke="#75219a" stroke-width="0.5" opacity="0.6"/>
<circle cx="516.64" cy="347.20" r="1.85" fill="#75219a"/>
<line x1="518.83" y1="341.70" x2="518.83" y2="347.20" stroke="#75219a" stroke-width="0.5" opacity="0.6"/>
<circle cx="518.83" cy="347.20" r="1.85" fill="#75219a"/>
<line x1="521.02" y1="341.70" x2="521.02" y2="347.20" stroke="#c24a4a" stroke-width="0.5" opacity="0.6"/>
<circle cx="521.02" cy="347.20" r="1.85" fill="#c24a4a"/>
<line x1="523.21" y1="341.70" x2="523.21" y2="347.20" stroke="#ee2b25" stroke-width="0.5" opacity="0.6"/>
<circle cx="523.21" cy="347.20" r="1.85" fill="#ee2b25"/>
<line x1="525.40" y1="341.70" x2="525.40" y2="347.20" stroke="#c24a4a" stroke-width="0.5" opacity="0.6"/>
<circle cx="525.40" cy="347.20" r="1.85" fill="#c24a4a"/>
<line x1="527.59" y1="341.70" x2="527.59" y2="347.20" stroke="#ee2b25" stroke-width="0.5" opacity="0.6"/>
<circle cx="527.59" cy="347.20" r="1.85" fill="#ee2b25"/>
<line x1="529.78" y1="341.70" x2="529.78" y2="347.20" stroke="#75219a" stroke-width="0.5" opacity="0.6"/>
<circle cx="529.78" cy="347.20" r="1.85" fill="#75219a"/>
<line x1="531.97" y1="341.70" x2="531.97" y2="347.20" stroke="#75219a" stroke-width="0.5" opacity="0.6"/>
<circle cx="531.97" cy="347.20" r="1.85" fill="#75219a"/>
<line x1="534.16" y1="341.70" x2="534.16" y2="347.20" stroke="#75219a" stroke-width="0.5" opacity="0.6"/>
<circle cx="534.16" cy="347.20" r="1.85" fill="#75219a"/>
<line x1="535.62" y1="341.70" x2="535.62" y2="347.20" stroke="#75219a" stroke-width="0.5" opacity="0.6"/>
<circle cx="535.62" cy="347.20" r="1.85" fill="#75219a"/>
<line x1="550.30" y1="341.70" x2="550.30" y2="347.20" stroke="#c24a4a" stroke-width="0.5" opacity="0.6"/>
<circle cx="550.30" cy="347.20" r="1.85" fill="#c24a4a"/>
<line x1="558.60" y1="341.70" x2="558.60" y2="347.20" stroke="#c24a4a" stroke-width="0.5" opacity="0.6"/>
<circle cx="558.60" cy="347.20" r="1.85" fill="#c24a4a"/>
<line x1="560.20" y1="341.70" x2="560.20" y2="347.20" stroke="#c24a4a" stroke-width="0.5" opacity="0.6"/>
<circle cx="560.20" cy="347.20" r="1.85" fill="#c24a4a"/>
<line x1="563.50" y1="341.70" x2="563.50" y2="347.20" stroke="#c24a4a" stroke-width="0.5" opacity="0.6"/>
<circle cx="563.50" cy="347.20" r="1.85" fill="#c24a4a"/>
<line x1="567.80" y1="341.70" x2="567.80" y2="347.20" stroke="#c24a4a" stroke-width="0.5" opacity="0.6"/>
<circle cx="567.80" cy="347.20" r="1.85" fill="#c24a4a"/>
<line x1="593.00" y1="341.70" x2="593.00" y2="347.20" stroke="#c24a4a" stroke-width="0.5" opacity="0.6"/>
<circle cx="593.00" cy="347.20" r="1.85" fill="#c24a4a"/>
<line x1="599.60" y1="341.70" x2="599.60" y2="347.20" stroke="#ee2b25" stroke-width="0.5" opacity="0.6"/>
<circle cx="599.60" cy="347.20" r="1.85" fill="#ee2b25"/>
<line x1="609.00" y1="341.70" x2="609.00" y2="347.20" stroke="#c24a4a" stroke-width="0.5" opacity="0.6"/>
<circle cx="609.00" cy="347.20" r="1.85" fill="#c24a4a"/>
<line x1="622.60" y1="341.70" x2="622.60" y2="347.20" stroke="#c24a4a" stroke-width="0.5" opacity="0.6"/>
<circle cx="622.60" cy="347.20" r="1.85" fill="#c24a4a"/>
<line x1="629.60" y1="341.70" x2="629.60" y2="347.20" stroke="#c24a4a" stroke-width="0.5" opacity="0.6"/>
<circle cx="629.60" cy="347.20" r="1.85" fill="#c24a4a"/>
<line x1="637.90" y1="341.70" x2="637.90" y2="347.20" stroke="#ee2b25" stroke-width="0.5" opacity="0.6"/>
<circle cx="637.90" cy="347.20" r="1.85" fill="#ee2b25"/>
<line x1="643.40" y1="341.70" x2="643.40" y2="347.20" stroke="#75219a" stroke-width="0.5" opacity="0.6"/>
<circle cx="643.40" cy="347.20" r="1.85" fill="#75219a"/>
<line x1="654.30" y1="341.70" x2="654.30" y2="347.20" stroke="#c24a4a" stroke-width="0.5" opacity="0.6"/>
<circle cx="654.30" cy="347.20" r="1.85" fill="#c24a4a"/>
<line x1="677.30" y1="341.70" x2="677.30" y2="347.20" stroke="#c24a4a" stroke-width="0.5" opacity="0.6"/>
<circle cx="677.30" cy="347.20" r="1.85" fill="#c24a4a"/>
<line x1="681.30" y1="341.70" x2="681.30" y2="347.20" stroke="#75219a" stroke-width="0.5" opacity="0.6"/>
<circle cx="681.30" cy="347.20" r="1.85" fill="#75219a"/>
<circle cx="399.70" cy="350.50" r="1.9" fill="#75219a"/>
<circle cx="446.60" cy="350.20" r="1.5" fill="#75219a"/>
<circle cx="467.70" cy="350.50" r="1.5" fill="#75219a"/>
<circle cx="473.60" cy="350.50" r="1.5" fill="#75219a"/>
<circle cx="486.70" cy="350.50" r="1.5" fill="#75219a"/>
<circle cx="491.80" cy="350.50" r="1.5" fill="#75219a"/>
<circle cx="496.20" cy="350.50" r="1.5" fill="#75219a"/>
<circle cx="524.00" cy="350.50" r="1.5" fill="#75219a"/>
<circle cx="534.20" cy="350.50" r="1.5" fill="#75219a"/>
<circle cx="347.20" cy="351.80" r="3.2" fill="#ee2b25"/>
<circle cx="392.40" cy="351.80" r="3.2" fill="#ee2b25"/>
<circle cx="412.20" cy="351.80" r="3.2" fill="#ee2b25"/>
<circle cx="580.00" cy="351.70" r="3.6" fill="#ee2b25"/>
<circle cx="423.80" cy="355.70" r="4.4" fill="#6a35f0"/>
<circle cx="448.80" cy="354.20" r="3.0" fill="#6a35f0"/>
<circle cx="486.00" cy="351.30" r="3.3" fill="#ee2b25"/>
<circle cx="482.30" cy="354.60" r="3.0" fill="#6a35f0"/>
<circle cx="513.00" cy="351.80" r="3.4" fill="#6a35f0"/>
<circle cx="526.90" cy="350.30" r="2.0" fill="#6a35f0"/>
<circle cx="448.8" cy="354.2" r="1.6" fill="none" stroke="#fff" stroke-width="0.4"/>
<circle cx="399.7" cy="350.5" r="1.0" fill="none" stroke="#fff" stroke-width="0.3"/>
<path d="M433.00,349.20 V370.50 L418.40,380.00 V386.50" fill="none" stroke="#6a35f0" stroke-width="0.55"/>
<path d="M448.20,349.20 V370.50 L428.40,380.00 V386.50" fill="none" stroke="#6a35f0" stroke-width="0.55"/>
<path d="M461.00,349.20 V370.50 L435.40,380.00 V386.50" fill="none" stroke="#75219a" stroke-width="0.55"/>
<path d="M464.20,349.20 V371.50 L452.00,381.00 V386.50" fill="none" stroke="#75219a" stroke-width="0.55"/>
<path d="M472.30,349.20 V372.00 L472.90,381.00 V386.50" fill="none" stroke="#6a35f0" stroke-width="0.55"/>
<path d="M495.70,349.20 V372.00 L506.90,380.00 V386.50" fill="none" stroke="#75219a" stroke-width="0.55"/>
<path d="M499.50,349.20 V372.00 L529.70,380.00 V386.50" fill="none" stroke="#6a35f0" stroke-width="0.55"/>
<path d="M530.00,349.20 V367.30 L573.00,378.00 V386.50" fill="none" stroke="#c24a4a" stroke-width="0.55"/>
<path d="M533.30,349.20 V367.30 L597.50,378.00 V386.50" fill="none" stroke="#75219a" stroke-width="0.55"/>
<circle cx="418.40" cy="390.00" r="4.6" fill="#6a35f0"/>
<text x="418.40" y="392.48" font-size="6.90" font-weight="bold" fill="#fff" text-anchor="middle">4</text>
<text transform="translate(416.38,395.40) rotate(90)" font-size="5.6" fill="#6a35f0">X374_splice</text>
<circle cx="428.40" cy="390.00" r="4.6" fill="#6a35f0"/>
<text x="428.40" y="392.48" font-size="6.90" font-weight="bold" fill="#fff" text-anchor="middle">4</text>
<text transform="translate(426.38,395.40) rotate(90)" font-size="5.6" fill="#6a35f0">X499_splice</text>
<circle cx="435.40" cy="387.80" r="1.6" fill="#75219a"/>
<text x="437.60" y="389.31" font-size="4.2" fill="#75219a">R518L</text>
<circle cx="435.40" cy="392.50" r="1.6" fill="#75219a"/>
<text x="437.60" y="394.01" font-size="4.2" fill="#75219a">R518H</text>
<circle cx="435.40" cy="397.20" r="1.6" fill="#75219a"/>
<text x="437.60" y="398.71" font-size="4.2" fill="#75219a">R518C</text>
<circle cx="452.00" cy="387.80" r="1.6" fill="#75219a"/>
<text x="454.20" y="389.31" font-size="4.2" fill="#75219a">A548G</text>
<circle cx="452.00" cy="392.50" r="1.6" fill="#75219a"/>
<text x="454.20" y="394.01" font-size="4.2" fill="#75219a">A548P</text>
<circle cx="452.00" cy="397.20" r="1.6" fill="#75219a"/>
<text x="454.20" y="398.71" font-size="4.2" fill="#75219a">A548T</text>
<circle cx="452.00" cy="401.90" r="1.6" fill="#3a8a30"/>
<text x="454.20" y="403.41" font-size="4.2" fill="#3a8a30">S547del</text>
<circle cx="472.90" cy="389.20" r="3.0" fill="#6a35f0"/>
<text x="472.90" y="390.82" font-size="4.50" font-weight="bold" fill="#fff" text-anchor="middle">2</text>
<text x="476.70" y="391.00" font-size="5.0" fill="#6a35f0">X550_splice</text>
<circle cx="472.90" cy="395.84" r="1.6" fill="#6a35f0"/>
<text x="475.10" y="397.35" font-size="4.2" fill="#6a35f0">X551_splice</text>
<circle cx="472.90" cy="401.64" r="1.6" fill="#ee2b25"/>
<text x="475.10" y="403.15" font-size="4.2" fill="#ee2b25">E551*</text>
<circle cx="506.90" cy="389.00" r="3.0" fill="#75219a"/>
<text x="506.90" y="390.62" font-size="4.50" font-weight="bold" fill="#fff" text-anchor="middle">2</text>
<text x="510.70" y="390.55" font-size="4.3" fill="#75219a">M653I</text>
<circle cx="506.90" cy="396.04" r="1.6" fill="#75219a"/>
<text x="509.10" y="397.55" font-size="4.2" fill="#75219a">M653V</text>
<circle cx="529.70" cy="390.80" r="4.6" fill="#6a35f0"/>
<text x="529.70" y="393.28" font-size="6.90" font-weight="bold" fill="#fff" text-anchor="middle">6</text>
<text x="535.10" y="393.09" font-size="6.35" fill="#6a35f0">X669_splice</text>
<circle cx="529.70" cy="398.60" r="1.6" fill="#8f6fd0"/>
<text x="531.90" y="400.00" font-size="3.9" fill="#8f6fd0">X669_splice</text>
<circle cx="573.00" cy="387.80" r="1.6" fill="#c24a4a"/>
<text x="575.20" y="389.31" font-size="4.2" fill="#c24a4a">D803Gfs*1</text>
<circle cx="573.00" cy="392.50" r="1.6" fill="#ee2b25"/>
<text x="575.20" y="394.01" font-size="4.2" fill="#ee2b25">E803*</text>
<circle cx="573.00" cy="397.20" r="1.6" fill="#75219a"/>
<text x="575.20" y="398.71" font-size="4.2" fill="#75219a">D803K</text>
<circle cx="597.50" cy="387.80" r="1.6" fill="#75219a"/>
<text x="599.70" y="389.31" font-size="4.2" fill="#75219a">M817R</text>
<circle cx="597.50" cy="392.50" r="1.6" fill="#75219a"/>
<text x="599.70" y="394.01" font-size="4.2" fill="#75219a">M817T</text>
<circle cx="597.50" cy="397.20" r="1.6" fill="#75219a"/>
<text x="599.70" y="398.71" font-size="4.2" fill="#75219a">M817V</text>
<ellipse cx="627.20" cy="245.20" rx="1.45" ry="2.0" fill="#75219a"/>
<text x="630.90" y="246.85" font-size="4.6" fill="#75219a">MISSENSE</text>
<ellipse cx="627.20" cy="251.88" rx="1.45" ry="2.0" fill="#b8c44a"/>
<text x="630.90" y="253.53" font-size="4.6" fill="#b8c44a">EXON</text>
<ellipse cx="627.20" cy="258.56" rx="1.45" ry="2.0" fill="#c24a4a"/>
<text x="630.90" y="260.21" font-size="4.6" fill="#c24a4a">FRAMESHIFT</text>
<ellipse cx="627.20" cy="265.24" rx="1.45" ry="2.0" fill="#ee2b25"/>
<text x="630.90" y="266.89" font-size="4.6" fill="#ee2b25">NONSENSE</text>
<ellipse cx="627.20" cy="271.92" rx="1.45" ry="2.0" fill="#5aaa44"/>
<text x="630.90" y="273.57" font-size="4.6" fill="#5aaa44">SILENT</text>
<ellipse cx="627.20" cy="278.60" rx="1.45" ry="2.0" fill="#3a8a30"/>
<text x="630.90" y="280.25" font-size="4.6" fill="#3a8a30">PROTEINDEL</text>
<ellipse cx="627.20" cy="285.28" rx="1.45" ry="2.0" fill="#8a5a4a"/>
<text x="630.90" y="286.93" font-size="4.6" fill="#8a5a4a">PROTEININS</text>
<ellipse cx="627.20" cy="291.96" rx="1.45" ry="2.0" fill="#4a0f3a"/>
<text x="630.90" y="293.61" font-size="4.6" fill="#4a0f3a">PROTEINALTERING</text>
<ellipse cx="627.20" cy="298.64" rx="1.45" ry="2.0" fill="#8f6fd0"/>
<text x="630.90" y="300.29" font-size="4.6" fill="#8f6fd0">SPLICE_REGION</text>
<ellipse cx="627.20" cy="305.32" rx="1.45" ry="2.0" fill="#6a35f0"/>
<text x="630.90" y="306.97" font-size="4.6" fill="#6a35f0">SPLICE</text>
<ellipse cx="632.40" cy="419.20" rx="1.45" ry="2.0" fill="#75219a"/>
<text x="636.00" y="420.85" font-size="4.6" fill="#75219a">MISSENSE</text>
<ellipse cx="632.40" cy="425.88" rx="1.45" ry="2.0" fill="#b8c44a"/>
<text x="636.00" y="427.53" font-size="4.6" fill="#b8c44a">EXON</text>
<ellipse cx="632.40" cy="432.56" rx="1.45" ry="2.0" fill="#c24a4a"/>
<text x="636.00" y="434.21" font-size="4.6" fill="#c24a4a">FRAMESHIFT</text>
<ellipse cx="632.40" cy="439.24" rx="1.45" ry="2.0" fill="#ee2b25"/>
<text x="636.00" y="440.89" font-size="4.6" fill="#ee2b25">NONSENSE</text>
<ellipse cx="632.40" cy="445.92" rx="1.45" ry="2.0" fill="#5aaa44"/>
<text x="636.00" y="447.57" font-size="4.6" fill="#5aaa44">SILENT</text>
<ellipse cx="632.40" cy="452.60" rx="1.45" ry="2.0" fill="#3a8a30"/>
<text x="636.00" y="454.25" font-size="4.6" fill="#3a8a30">PROTEINDEL</text>
<ellipse cx="632.40" cy="459.28" rx="1.45" ry="2.0" fill="#8a5a4a"/>
<text x="636.00" y="460.93" font-size="4.6" fill="#8a5a4a">PROTEININS</text>
<ellipse cx="632.40" cy="465.96" rx="1.45" ry="2.0" fill="#4a0f3a"/>
<text x="636.00" y="467.61" font-size="4.6" fill="#4a0f3a">PROTEINALTERING</text>
<ellipse cx="632.40" cy="472.64" rx="1.45" ry="2.0" fill="#8f6fd0"/>
<text x="636.00" y="474.29" font-size="4.6" fill="#8f6fd0">SPLICE_REGION</text>
<ellipse cx="632.40" cy="479.32" rx="1.45" ry="2.0" fill="#6a35f0"/>
<text x="636.00" y="480.97" font-size="4.6" fill="#6a35f0">SPLICE</text>
<rect x="583.80" y="291.30" width="8.8" height="4.8" fill="#aec2f7" stroke="#333" stroke-width="0.6"/>
<rect x="583.80" y="300.20" width="8.8" height="4.6" fill="#f4a3a3" stroke="#333" stroke-width="0.6"/>
<text x="594.70" y="296.00" font-size="6.1" font-weight="bold" fill="#000" >M3 helix</text>
<text x="594.70" y="304.70" font-size="6.1" font-weight="bold" fill="#000" >M4 helix</text>
<rect x="585.00" y="463.30" width="8.8" height="4.8" fill="#aec2f7" stroke="#333" stroke-width="0.6"/>
<rect x="585.00" y="472.10" width="8.8" height="4.6" fill="#f4a3a3" stroke="#333" stroke-width="0.6"/>
<text x="595.30" y="468.00" font-size="6.1" font-weight="bold" fill="#000" >M3 helix</text>
<text x="595.30" y="476.60" font-size="6.1" font-weight="bold" fill="#000" >M4 helix</text>
<path d="M1.40,496.80 C6.17,496.77 20.23,496.68 30.00,496.60 C39.77,496.52 52.93,496.57 60.00,496.30 C67.07,496.03 68.27,495.83 72.40,495.00 C76.53,494.17 80.67,493.48 84.80,491.30 C88.93,489.12 93.07,486.37 97.20,481.90 C101.33,477.43 105.47,470.92 109.60,464.50 C113.73,458.08 117.87,449.60 122.00,443.40 C126.13,437.20 131.08,432.05 134.40,427.30 C137.72,422.55 139.42,417.88 141.90,414.90 C144.38,411.92 146.40,409.62 149.30,409.40 C152.20,409.18 155.98,411.53 159.30,413.60 C162.62,415.67 165.90,419.93 169.20,421.80 C172.50,423.67 176.20,423.05 179.10,424.80 C182.00,426.55 184.12,428.17 186.60,432.30 C189.08,436.43 191.53,442.98 194.00,449.60 C196.47,456.22 198.82,465.43 201.40,472.00 C203.98,478.57 206.85,484.73 209.50,489.00 C212.15,493.27 216.00,496.17 217.30,497.60 L217.30,497.90 L1.40,497.90 Z" fill="#d3e5f5" stroke="none"/>
<path d="M1.40,496.80 C6.17,496.77 20.23,496.68 30.00,496.60 C39.77,496.52 52.93,496.57 60.00,496.30 C67.07,496.03 68.27,495.83 72.40,495.00 C76.53,494.17 80.67,493.48 84.80,491.30 C88.93,489.12 93.07,486.37 97.20,481.90 C101.33,477.43 105.47,470.92 109.60,464.50 C113.73,458.08 117.87,449.60 122.00,443.40 C126.13,437.20 131.08,432.05 134.40,427.30 C137.72,422.55 139.42,417.88 141.90,414.90 C144.38,411.92 146.40,409.62 149.30,409.40 C152.20,409.18 155.98,411.53 159.30,413.60 C162.62,415.67 165.90,419.93 169.20,421.80 C172.50,423.67 176.20,423.05 179.10,424.80 C182.00,426.55 184.12,428.17 186.60,432.30 C189.08,436.43 191.53,442.98 194.00,449.60 C196.47,456.22 198.82,465.43 201.40,472.00 C203.98,478.57 206.85,484.73 209.50,489.00 C212.15,493.27 216.00,496.17 217.30,497.60" fill="none" stroke="#333" stroke-width="0.75"/>
<rect x="1.40" y="497.90" width="326.90" height="12.60" fill="#fff" stroke="#b4b4b4" stroke-width="1.1"/>
<line x1="0.90" y1="497.90" x2="328.80" y2="497.90" stroke="#8c8c8c" stroke-width="1.0"/>
<rect x="140.20" y="498.40" width="5.10" height="11.70" fill="#aec2f7"/>
<rect x="181.60" y="498.40" width="4.20" height="11.70" fill="#f4a3a3"/>
<line x1="33.30" y1="498.10" x2="33.30" y2="509.30" stroke="#444" stroke-width="0.6" stroke-dasharray="0.9,1.0"/>
<line x1="77.40" y1="498.10" x2="77.40" y2="509.30" stroke="#444" stroke-width="0.6" stroke-dasharray="0.9,1.0"/>
<line x1="85.50" y1="498.10" x2="85.50" y2="509.30" stroke="#444" stroke-width="0.6" stroke-dasharray="0.9,1.0"/>
<line x1="100.50" y1="498.10" x2="100.50" y2="509.30" stroke="#444" stroke-width="0.6" stroke-dasharray="0.9,1.0"/>
<line x1="113.00" y1="498.10" x2="113.00" y2="509.30" stroke="#444" stroke-width="0.6" stroke-dasharray="0.9,1.0"/>
<line x1="124.70" y1="498.10" x2="124.70" y2="509.30" stroke="#444" stroke-width="0.6" stroke-dasharray="0.9,1.0"/>
<line x1="150.00" y1="498.10" x2="150.00" y2="509.30" stroke="#444" stroke-width="0.6" stroke-dasharray="0.9,1.0"/>
<line x1="161.40" y1="498.10" x2="161.40" y2="509.30" stroke="#444" stroke-width="0.6" stroke-dasharray="0.9,1.0"/>
<line x1="175.60" y1="498.10" x2="175.60" y2="509.30" stroke="#444" stroke-width="0.6" stroke-dasharray="0.9,1.0"/>
<line x1="193.00" y1="498.10" x2="193.00" y2="509.30" stroke="#444" stroke-width="0.6" stroke-dasharray="0.9,1.0"/>
<text transform="translate(47.18,508.20) scale(0.72,1)" font-size="5.2" text-anchor="middle" fill="#222">200</text>
<text transform="translate(90.86,508.20) scale(0.72,1)" font-size="5.2" text-anchor="middle" fill="#222">400</text>
<text transform="translate(134.54,508.20) scale(0.72,1)" font-size="5.2" text-anchor="middle" fill="#222">600</text>
<text transform="translate(178.22,508.20) scale(0.72,1)" font-size="5.2" text-anchor="middle" fill="#222">800</text>
<text transform="translate(221.90,508.20) scale(0.72,1)" font-size="5.2" text-anchor="middle" fill="#222">1000</text>
<text transform="translate(265.58,508.20) scale(0.72,1)" font-size="5.2" text-anchor="middle" fill="#222">1200</text>
<text transform="translate(309.26,508.20) scale(0.72,1)" font-size="5.2" text-anchor="middle" fill="#222">1400</text>
<line x1="116.6" y1="465.0" x2="116.6" y2="497.6" stroke="#75219a" stroke-width="0.6" opacity="0.7"/>
<line x1="140.7" y1="465.0" x2="140.7" y2="497.6" stroke="#75219a" stroke-width="0.6" opacity="0.7"/>
<line x1="170" y1="465.0" x2="170" y2="497.6" stroke="#75219a" stroke-width="0.6" opacity="0.7"/>
<line x1="177.3" y1="465.0" x2="177.3" y2="497.6" stroke="#75219a" stroke-width="0.6" opacity="0.7"/>
<line x1="182.6" y1="465.0" x2="182.6" y2="497.6" stroke="#75219a" stroke-width="0.6" opacity="0.7"/>
<path d="M144.8,465.0 V480 L143.5,490 V497.6" fill="none" stroke="#75219a" stroke-width="0.6" opacity="0.7"/>
<path d="M151.9,465.0 V474 L154.6,483 V497.6" fill="none" stroke="#75219a" stroke-width="0.6" opacity="0.8"/>
<path d="M156.1,465.0 V474 L154.6,483 V497.6" fill="none" stroke="#75219a" stroke-width="0.6" opacity="0.8"/>
<path d="M160.4,465.0 V474 L154.6,483 V497.6" fill="none" stroke="#75219a" stroke-width="0.6" opacity="0.8"/>
<path d="M164.7,465.0 V474 L154.6,483 V497.6" fill="none" stroke="#75219a" stroke-width="0.6" opacity="0.8"/>
<line x1="154.6" y1="483" x2="154.6" y2="497.6" stroke="#75219a" stroke-width="1.2"/>
<path d="M187.4,465.0 V478 L185.5,486 V497.6" fill="none" stroke="#5aaa44" stroke-width="0.6"/>
<path d="M192.5,465.0 V476 L188.6,486 V497.6" fill="none" stroke="#ee2b25" stroke-width="0.6" opacity="0.8"/>
<circle cx="116.6" cy="465.0" r="1.6" fill="#75219a"/>
<circle cx="140.7" cy="465.0" r="1.6" fill="#75219a"/>
<circle cx="144.8" cy="465.0" r="1.6" fill="#75219a"/>
<circle cx="151.9" cy="465.0" r="1.6" fill="#75219a"/>
<circle cx="156.1" cy="465.0" r="1.6" fill="#75219a"/>
<circle cx="160.4" cy="465.0" r="1.6" fill="#75219a"/>
<circle cx="164.7" cy="465.0" r="1.6" fill="#75219a"/>
<circle cx="177.3" cy="465.0" r="1.6" fill="#75219a"/>
<circle cx="187.4" cy="465.0" r="1.6" fill="#3a8a30"/>
<circle cx="170.00" cy="465.00" r="2.3" fill="#75219a"/>
<text x="170.00" y="466.24" font-size="3.45" font-weight="bold" fill="#fff" text-anchor="middle">2</text>
<circle cx="182.60" cy="465.00" r="2.3" fill="#75219a"/>
<text x="182.60" y="466.24" font-size="3.45" font-weight="bold" fill="#fff" text-anchor="middle">2</text>
<circle cx="192.50" cy="465.00" r="2.3" fill="#ee2b25"/>
<text x="192.50" y="466.24" font-size="3.45" font-weight="bold" fill="#fff" text-anchor="middle">2</text>
<text transform="translate(142.00,462.00) rotate(-90)" font-size="3.6" fill="#75219a">Ser628Tyr</text>
<text transform="translate(146.10,462.00) rotate(-90)" font-size="3.6" fill="#75219a">Cys461Tyr</text>
<text transform="translate(153.20,462.00) rotate(-90)" font-size="3.6" fill="#75219a">Gly689Ser</text>
<text transform="translate(157.40,462.00) rotate(-90)" font-size="3.6" fill="#75219a">Thr646Ile</text>
<text transform="translate(161.70,462.00) rotate(-90)" font-size="3.6" fill="#75219a">Arg687Thr</text>
<text transform="translate(166.00,462.00) rotate(-90)" font-size="3.6" fill="#75219a">Ile655Thr</text>
<text transform="translate(171.30,462.00) rotate(-90)" font-size="3.6" fill="#75219a">Glu790Val</text>
<text transform="translate(178.60,462.00) rotate(-90)" font-size="3.6" fill="#75219a">Leu791Phe</text>
<text transform="translate(183.90,462.00) rotate(-90)" font-size="3.6" fill="#75219a">Ser810Ala</text>
<text transform="translate(188.70,462.50) rotate(-90)" font-size="3.6" fill="#5aaa44">Thr835_Ile836del</text>
<text x="118.80" y="466.30" font-size="3.8" fill="#75219a" >Arg519Gln</text>
<text x="195.20" y="466.30" font-size="3.8" fill="#ee2b25" >Arg847Ter</text>
<line x1="5.60" y1="512.70" x2="5.60" y2="518.20" stroke="#c24a4a" stroke-width="0.5" opacity="0.6"/>
<circle cx="5.60" cy="518.20" r="1.85" fill="#c24a4a"/>
<line x1="42.60" y1="512.70" x2="42.60" y2="518.20" stroke="#ee2b25" stroke-width="0.5" opacity="0.6"/>
<circle cx="42.60" cy="518.20" r="1.85" fill="#ee2b25"/>
<line x1="51.10" y1="512.70" x2="51.10" y2="518.20" stroke="#ee2b25" stroke-width="0.5" opacity="0.6"/>
<circle cx="51.10" cy="518.20" r="1.85" fill="#ee2b25"/>
<line x1="54.60" y1="512.70" x2="54.60" y2="518.20" stroke="#ee2b25" stroke-width="0.5" opacity="0.6"/>
<circle cx="54.60" cy="518.20" r="1.85" fill="#ee2b25"/>
<line x1="57.00" y1="512.70" x2="57.00" y2="518.20" stroke="#ee2b25" stroke-width="0.5" opacity="0.6"/>
<circle cx="57.00" cy="518.20" r="1.85" fill="#ee2b25"/>
<line x1="63.40" y1="512.70" x2="63.40" y2="518.20" stroke="#c24a4a" stroke-width="0.5" opacity="0.6"/>
<circle cx="63.40" cy="518.20" r="1.85" fill="#c24a4a"/>
<line x1="65.00" y1="512.70" x2="65.00" y2="518.20" stroke="#c24a4a" stroke-width="0.5" opacity="0.6"/>
<circle cx="65.00" cy="518.20" r="1.85" fill="#c24a4a"/>
<line x1="68.70" y1="512.70" x2="68.70" y2="518.20" stroke="#75219a" stroke-width="0.5" opacity="0.6"/>
<circle cx="68.70" cy="518.20" r="1.85" fill="#75219a"/>
<line x1="75.50" y1="512.70" x2="75.50" y2="518.20" stroke="#8f6fd0" stroke-width="0.5" opacity="0.6"/>
<circle cx="75.50" cy="518.20" r="1.85" fill="#8f6fd0"/>
<line x1="78.20" y1="512.70" x2="78.20" y2="518.20" stroke="#75219a" stroke-width="0.5" opacity="0.6"/>
<circle cx="78.20" cy="518.20" r="1.85" fill="#75219a"/>
<line x1="82.70" y1="512.70" x2="82.70" y2="518.20" stroke="#c24a4a" stroke-width="0.5" opacity="0.6"/>
<circle cx="82.70" cy="518.20" r="1.85" fill="#c24a4a"/>
<line x1="85.10" y1="512.70" x2="85.10" y2="518.20" stroke="#ee2b25" stroke-width="0.5" opacity="0.6"/>
<circle cx="85.10" cy="518.20" r="1.85" fill="#ee2b25"/>
<line x1="89.60" y1="512.70" x2="89.60" y2="518.20" stroke="#ee2b25" stroke-width="0.5" opacity="0.6"/>
<circle cx="89.60" cy="518.20" r="1.85" fill="#ee2b25"/>
<line x1="96.40" y1="512.70" x2="96.40" y2="518.20" stroke="#c24a4a" stroke-width="0.5" opacity="0.6"/>
<circle cx="96.40" cy="518.20" r="1.85" fill="#c24a4a"/>
<line x1="98.80" y1="512.70" x2="98.80" y2="518.20" stroke="#ee2b25" stroke-width="0.5" opacity="0.6"/>
<circle cx="98.80" cy="518.20" r="1.85" fill="#ee2b25"/>
<line x1="105.20" y1="512.70" x2="105.20" y2="518.20" stroke="#ee2b25" stroke-width="0.5" opacity="0.6"/>
<circle cx="105.20" cy="518.20" r="1.85" fill="#ee2b25"/>
<line x1="100.44" y1="512.70" x2="100.44" y2="518.20" stroke="#ee2b25" stroke-width="0.5" opacity="0.6"/>
<circle cx="100.44" cy="518.20" r="1.85" fill="#ee2b25"/>
<line x1="102.63" y1="512.70" x2="102.63" y2="518.20" stroke="#8f6fd0" stroke-width="0.5" opacity="0.6"/>
<circle cx="102.63" cy="518.20" r="1.85" fill="#8f6fd0"/>
<line x1="104.82" y1="512.70" x2="104.82" y2="518.20" stroke="#ee2b25" stroke-width="0.5" opacity="0.6"/>
<circle cx="104.82" cy="518.20" r="1.85" fill="#ee2b25"/>
<line x1="105.69" y1="512.70" x2="105.69" y2="518.20" stroke="#ee2b25" stroke-width="0.5" opacity="0.6"/>
<circle cx="105.69" cy="518.20" r="1.85" fill="#ee2b25"/>
<line x1="108.76" y1="512.70" x2="108.76" y2="518.20" stroke="#c24a4a" stroke-width="0.5" opacity="0.6"/>
<circle cx="108.76" cy="518.20" r="1.85" fill="#c24a4a"/>
<line x1="110.51" y1="512.70" x2="110.51" y2="518.20" stroke="#75219a" stroke-width="0.5" opacity="0.6"/>
<circle cx="110.51" cy="518.20" r="1.85" fill="#75219a"/>
<line x1="112.70" y1="512.70" x2="112.70" y2="518.20" stroke="#ee2b25" stroke-width="0.5" opacity="0.6"/>
<circle cx="112.70" cy="518.20" r="1.85" fill="#ee2b25"/>
<line x1="115.32" y1="512.70" x2="115.32" y2="518.20" stroke="#75219a" stroke-width="0.5" opacity="0.6"/>
<circle cx="115.32" cy="518.20" r="1.85" fill="#75219a"/>
<line x1="117.51" y1="512.70" x2="117.51" y2="518.20" stroke="#75219a" stroke-width="0.5" opacity="0.6"/>
<circle cx="117.51" cy="518.20" r="1.85" fill="#75219a"/>
<line x1="119.70" y1="512.70" x2="119.70" y2="518.20" stroke="#75219a" stroke-width="0.5" opacity="0.6"/>
<circle cx="119.70" cy="518.20" r="1.85" fill="#75219a"/>
<line x1="121.45" y1="512.70" x2="121.45" y2="518.20" stroke="#75219a" stroke-width="0.5" opacity="0.6"/>
<circle cx="121.45" cy="518.20" r="1.85" fill="#75219a"/>
<line x1="124.52" y1="512.70" x2="124.52" y2="518.20" stroke="#75219a" stroke-width="0.5" opacity="0.6"/>
<circle cx="124.52" cy="518.20" r="1.85" fill="#75219a"/>
<line x1="126.27" y1="512.70" x2="126.27" y2="518.20" stroke="#75219a" stroke-width="0.5" opacity="0.6"/>
<circle cx="126.27" cy="518.20" r="1.85" fill="#75219a"/>
<line x1="130.65" y1="512.70" x2="130.65" y2="518.20" stroke="#ee2b25" stroke-width="0.5" opacity="0.6"/>
<circle cx="130.65" cy="518.20" r="1.85" fill="#ee2b25"/>
<line x1="132.84" y1="512.70" x2="132.84" y2="518.20" stroke="#6a35f0" stroke-width="0.5" opacity="0.6"/>
<circle cx="132.84" cy="518.20" r="1.85" fill="#6a35f0"/>
<line x1="135.46" y1="512.70" x2="135.46" y2="518.20" stroke="#ee2b25" stroke-width="0.5" opacity="0.6"/>
<circle cx="135.46" cy="518.20" r="1.85" fill="#ee2b25"/>
<line x1="137.65" y1="512.70" x2="137.65" y2="518.20" stroke="#75219a" stroke-width="0.5" opacity="0.6"/>
<circle cx="137.65" cy="518.20" r="1.85" fill="#75219a"/>
<line x1="138.97" y1="512.70" x2="138.97" y2="518.20" stroke="#75219a" stroke-width="0.5" opacity="0.6"/>
<circle cx="138.97" cy="518.20" r="1.85" fill="#75219a"/>
<line x1="140.28" y1="512.70" x2="140.28" y2="518.20" stroke="#75219a" stroke-width="0.5" opacity="0.6"/>
<circle cx="140.28" cy="518.20" r="1.85" fill="#75219a"/>
<line x1="142.03" y1="512.70" x2="142.03" y2="518.20" stroke="#75219a" stroke-width="0.5" opacity="0.6"/>
<circle cx="142.03" cy="518.20" r="1.85" fill="#75219a"/>
<line x1="143.78" y1="512.70" x2="143.78" y2="518.20" stroke="#75219a" stroke-width="0.5" opacity="0.6"/>
<circle cx="143.78" cy="518.20" r="1.85" fill="#75219a"/>
<line x1="145.53" y1="512.70" x2="145.53" y2="518.20" stroke="#ee2b25" stroke-width="0.5" opacity="0.6"/>
<circle cx="145.53" cy="518.20" r="1.85" fill="#ee2b25"/>
<line x1="147.29" y1="512.70" x2="147.29" y2="518.20" stroke="#75219a" stroke-width="0.5" opacity="0.6"/>
<circle cx="147.29" cy="518.20" r="1.85" fill="#75219a"/>
<line x1="149.04" y1="512.70" x2="149.04" y2="518.20" stroke="#75219a" stroke-width="0.5" opacity="0.6"/>
<circle cx="149.04" cy="518.20" r="1.85" fill="#75219a"/>
<line x1="151.23" y1="512.70" x2="151.23" y2="518.20" stroke="#75219a" stroke-width="0.5" opacity="0.6"/>
<circle cx="151.23" cy="518.20" r="1.85" fill="#75219a"/>
<line x1="152.54" y1="512.70" x2="152.54" y2="518.20" stroke="#75219a" stroke-width="0.5" opacity="0.6"/>
<circle cx="152.54" cy="518.20" r="1.85" fill="#75219a"/>
<line x1="154.73" y1="512.70" x2="154.73" y2="518.20" stroke="#75219a" stroke-width="0.5" opacity="0.6"/>
<circle cx="154.73" cy="518.20" r="1.85" fill="#75219a"/>
<line x1="156.92" y1="512.70" x2="156.92" y2="518.20" stroke="#ee2b25" stroke-width="0.5" opacity="0.6"/>
<circle cx="156.92" cy="518.20" r="1.85" fill="#ee2b25"/>
<line x1="158.67" y1="512.70" x2="158.67" y2="518.20" stroke="#75219a" stroke-width="0.5" opacity="0.6"/>
<circle cx="158.67" cy="518.20" r="1.85" fill="#75219a"/>
<line x1="155.44" y1="512.70" x2="155.44" y2="518.20" stroke="#75219a" stroke-width="0.5" opacity="0.6"/>
<circle cx="155.44" cy="518.20" r="1.85" fill="#75219a"/>
<line x1="158.06" y1="512.70" x2="158.06" y2="518.20" stroke="#ee2b25" stroke-width="0.5" opacity="0.6"/>
<circle cx="158.06" cy="518.20" r="1.85" fill="#ee2b25"/>
<line x1="160.25" y1="512.70" x2="160.25" y2="518.20" stroke="#8f6fd0" stroke-width="0.5" opacity="0.6"/>
<circle cx="160.25" cy="518.20" r="1.85" fill="#8f6fd0"/>
<line x1="163.32" y1="512.70" x2="163.32" y2="518.20" stroke="#75219a" stroke-width="0.5" opacity="0.6"/>
<circle cx="163.32" cy="518.20" r="1.85" fill="#75219a"/>
<line x1="165.51" y1="512.70" x2="165.51" y2="518.20" stroke="#75219a" stroke-width="0.5" opacity="0.6"/>
<circle cx="165.51" cy="518.20" r="1.85" fill="#75219a"/>
<line x1="166.82" y1="512.70" x2="166.82" y2="518.20" stroke="#75219a" stroke-width="0.5" opacity="0.6"/>
<circle cx="166.82" cy="518.20" r="1.85" fill="#75219a"/>
<line x1="173.39" y1="512.70" x2="173.39" y2="518.20" stroke="#6a35f0" stroke-width="0.5" opacity="0.6"/>
<circle cx="173.39" cy="518.20" r="1.85" fill="#6a35f0"/>
<line x1="175.14" y1="512.70" x2="175.14" y2="518.20" stroke="#8f6fd0" stroke-width="0.5" opacity="0.6"/>
<circle cx="175.14" cy="518.20" r="1.85" fill="#8f6fd0"/>
<line x1="178.20" y1="512.70" x2="178.20" y2="518.20" stroke="#8f6fd0" stroke-width="0.5" opacity="0.6"/>
<circle cx="178.20" cy="518.20" r="1.85" fill="#8f6fd0"/>
<line x1="179.96" y1="512.70" x2="179.96" y2="518.20" stroke="#75219a" stroke-width="0.5" opacity="0.6"/>
<circle cx="179.96" cy="518.20" r="1.85" fill="#75219a"/>
<line x1="181.27" y1="512.70" x2="181.27" y2="518.20" stroke="#75219a" stroke-width="0.5" opacity="0.6"/>
<circle cx="181.27" cy="518.20" r="1.85" fill="#75219a"/>
<line x1="183.46" y1="512.70" x2="183.46" y2="518.20" stroke="#c24a4a" stroke-width="0.5" opacity="0.6"/>
<circle cx="183.46" cy="518.20" r="1.85" fill="#c24a4a"/>
<line x1="185.21" y1="512.70" x2="185.21" y2="518.20" stroke="#75219a" stroke-width="0.5" opacity="0.6"/>
<circle cx="185.21" cy="518.20" r="1.85" fill="#75219a"/>
<line x1="187.40" y1="512.70" x2="187.40" y2="518.20" stroke="#ee2b25" stroke-width="0.5" opacity="0.6"/>
<circle cx="187.40" cy="518.20" r="1.85" fill="#ee2b25"/>
<line x1="189.15" y1="512.70" x2="189.15" y2="518.20" stroke="#c24a4a" stroke-width="0.5" opacity="0.6"/>
<circle cx="189.15" cy="518.20" r="1.85" fill="#c24a4a"/>
<line x1="190.90" y1="512.70" x2="190.90" y2="518.20" stroke="#c24a4a" stroke-width="0.5" opacity="0.6"/>
<circle cx="190.90" cy="518.20" r="1.85" fill="#c24a4a"/>
<line x1="193.09" y1="512.70" x2="193.09" y2="518.20" stroke="#ee2b25" stroke-width="0.5" opacity="0.6"/>
<circle cx="193.09" cy="518.20" r="1.85" fill="#ee2b25"/>
<line x1="198.35" y1="512.70" x2="198.35" y2="518.20" stroke="#c24a4a" stroke-width="0.5" opacity="0.6"/>
<circle cx="198.35" cy="518.20" r="1.85" fill="#c24a4a"/>
<line x1="200.10" y1="512.70" x2="200.10" y2="518.20" stroke="#c24a4a" stroke-width="0.5" opacity="0.6"/>
<circle cx="200.10" cy="518.20" r="1.85" fill="#c24a4a"/>
<line x1="203.16" y1="512.70" x2="203.16" y2="518.20" stroke="#ee2b25" stroke-width="0.5" opacity="0.6"/>
<circle cx="203.16" cy="518.20" r="1.85" fill="#ee2b25"/>
<line x1="204.47" y1="512.70" x2="204.47" y2="518.20" stroke="#ee2b25" stroke-width="0.5" opacity="0.6"/>
<circle cx="204.47" cy="518.20" r="1.85" fill="#ee2b25"/>
<line x1="206.23" y1="512.70" x2="206.23" y2="518.20" stroke="#c24a4a" stroke-width="0.5" opacity="0.6"/>
<circle cx="206.23" cy="518.20" r="1.85" fill="#c24a4a"/>
<line x1="209.29" y1="512.70" x2="209.29" y2="518.20" stroke="#c24a4a" stroke-width="0.5" opacity="0.6"/>
<circle cx="209.29" cy="518.20" r="1.85" fill="#c24a4a"/>
<line x1="204.20" y1="512.70" x2="204.20" y2="518.20" stroke="#ee2b25" stroke-width="0.5" opacity="0.6"/>
<circle cx="204.20" cy="518.20" r="1.85" fill="#ee2b25"/>
<line x1="205.70" y1="512.70" x2="205.70" y2="518.20" stroke="#ee2b25" stroke-width="0.5" opacity="0.6"/>
<circle cx="205.70" cy="518.20" r="1.85" fill="#ee2b25"/>
<line x1="209.10" y1="512.70" x2="209.10" y2="518.20" stroke="#c24a4a" stroke-width="0.5" opacity="0.6"/>
<circle cx="209.10" cy="518.20" r="1.85" fill="#c24a4a"/>
<line x1="222.80" y1="512.70" x2="222.80" y2="518.20" stroke="#c24a4a" stroke-width="0.5" opacity="0.6"/>
<circle cx="222.80" cy="518.20" r="1.85" fill="#c24a4a"/>
<line x1="237.00" y1="512.70" x2="237.00" y2="518.20" stroke="#ee2b25" stroke-width="0.5" opacity="0.6"/>
<circle cx="237.00" cy="518.20" r="1.85" fill="#ee2b25"/>
<line x1="240.80" y1="512.70" x2="240.80" y2="518.20" stroke="#c24a4a" stroke-width="0.5" opacity="0.6"/>
<circle cx="240.80" cy="518.20" r="1.85" fill="#c24a4a"/>
<line x1="250.30" y1="512.70" x2="250.30" y2="518.20" stroke="#75219a" stroke-width="0.5" opacity="0.6"/>
<circle cx="250.30" cy="518.20" r="1.85" fill="#75219a"/>
<line x1="273.60" y1="512.70" x2="273.60" y2="518.20" stroke="#c24a4a" stroke-width="0.5" opacity="0.6"/>
<circle cx="273.60" cy="518.20" r="1.85" fill="#c24a4a"/>
<line x1="282.90" y1="512.70" x2="282.90" y2="518.20" stroke="#c24a4a" stroke-width="0.5" opacity="0.6"/>
<circle cx="282.90" cy="518.20" r="1.85" fill="#c24a4a"/>
<line x1="288.20" y1="512.70" x2="288.20" y2="518.20" stroke="#8f6fd0" stroke-width="0.5" opacity="0.6"/>
<circle cx="288.20" cy="518.20" r="1.85" fill="#8f6fd0"/>
<line x1="291.50" y1="512.70" x2="291.50" y2="518.20" stroke="#c24a4a" stroke-width="0.5" opacity="0.6"/>
<circle cx="291.50" cy="518.20" r="1.85" fill="#c24a4a"/>
<line x1="307.20" y1="512.70" x2="307.20" y2="518.20" stroke="#c24a4a" stroke-width="0.5" opacity="0.6"/>
<circle cx="307.20" cy="518.20" r="1.85" fill="#c24a4a"/>
<circle cx="10.9" cy="520" r="1.85" fill="#c24a4a"/>
<circle cx="103.33" cy="521.2" r="1.8" fill="#75219a"/>
<circle cx="109.46" cy="521.2" r="1.8" fill="#75219a"/>
<circle cx="121.02" cy="521.2" r="1.8" fill="#75219a"/>
<circle cx="125.39" cy="521.2" r="1.8" fill="#75219a"/>
<circle cx="136.34" cy="521.2" r="1.8" fill="#75219a"/>
<circle cx="138.53" cy="521.2" r="1.8" fill="#75219a"/>
<circle cx="141.16" cy="521.2" r="1.8" fill="#75219a"/>
<circle cx="146.41" cy="521.2" r="1.8" fill="#75219a"/>
<circle cx="152.54" cy="521.2" r="1.8" fill="#75219a"/>
<circle cx="154.73" cy="521.2" r="1.8" fill="#75219a"/>
<circle cx="156.92" cy="521.2" r="1.8" fill="#75219a"/>
<circle cx="155.88" cy="521.2" r="1.8" fill="#75219a"/>
<circle cx="158.06" cy="521.2" r="1.8" fill="#75219a"/>
<circle cx="161.57" cy="521.2" r="1.8" fill="#8f6fd0"/>
<circle cx="179.96" cy="521.2" r="1.8" fill="#75219a"/>
<circle cx="181.27" cy="521.2" r="1.8" fill="#75219a"/>
<circle cx="189.59" cy="521.2" r="1.8" fill="#75219a"/>
<circle cx="94" cy="520.5" r="1.8" fill="#75219a"/>
<circle cx="102.8" cy="520.5" r="1.8" fill="#75219a"/>
<circle cx="149.5" cy="521.8" r="2.8" fill="#6a35f0"/>
<line x1="33.5" y1="510.5" x2="33.5" y2="545.7" stroke="#6a35f0" stroke-width="0.6"/>
<path d="M111.70,520.20 V529.50 L42.70,541.80 V546.30" fill="none" stroke="#75219a" stroke-width="0.55"/>
<path d="M114.00,520.20 V529.50 L60.20,541.80 V546.30" fill="none" stroke="#75219a" stroke-width="0.55"/>
<path d="M116.40,520.20 V529.50 L77.60,541.80 V546.30" fill="none" stroke="#75219a" stroke-width="0.55"/>
<path d="M122.20,520.20 V529.50 L96.50,541.80 V546.30" fill="none" stroke="#75219a" stroke-width="0.55"/>
<path d="M136.90,520.20 V529.50 L117.30,541.80 V546.30" fill="none" stroke="#75219a" stroke-width="0.55"/>
<path d="M136.90,520.20 V529.50 L138.00,541.80 V546.30" fill="none" stroke="#75219a" stroke-width="0.55"/>
<path d="M136.90,520.20 V529.50 L156.20,541.80 V546.30" fill="none" stroke="#75219a" stroke-width="0.55"/>
<path d="M164.90,520.20 V529.50 L174.20,541.80 V546.30" fill="none" stroke="#75219a" stroke-width="0.55"/>
<path d="M165.80,520.20 V529.50 L191.70,541.80 V546.30" fill="none" stroke="#75219a" stroke-width="0.55"/>
<path d="M166.60,520.20 V529.50 L209.20,541.80 V546.30" fill="none" stroke="#75219a" stroke-width="0.55"/>
<path d="M181.80,520.20 V529.50 L232.60,541.80 V546.30" fill="none" stroke="#75219a" stroke-width="0.55"/>
<path d="M181.80,520.20 V529.50 L250.60,541.80 V546.30" fill="none" stroke="#75219a" stroke-width="0.55"/>
<circle cx="33.50" cy="549.90" r="3.0" fill="#6a35f0"/>
<text x="33.50" y="551.52" font-size="4.50" font-weight="bold" fill="#fff" text-anchor="middle">3</text>
<text transform="translate(31.92,553.70) rotate(90)" font-size="4.4" fill="#6a35f0">X1?</text>
<circle cx="42.70" cy="548.70" r="1.6" fill="#75219a"/>
<text x="44.90" y="550.10" font-size="3.9" fill="#75219a">G499V</text>
<circle cx="42.70" cy="553.20" r="1.6" fill="#75219a"/>
<text x="44.90" y="554.60" font-size="3.9" fill="#75219a">G499E</text>
<circle cx="42.70" cy="557.70" r="1.6" fill="#75219a"/>
<text x="44.90" y="559.10" font-size="3.9" fill="#75219a">G499R</text>
<circle cx="60.20" cy="548.70" r="1.6" fill="#75219a"/>
<text x="62.40" y="550.10" font-size="3.9" fill="#75219a">R519Q</text>
<circle cx="60.20" cy="553.20" r="1.6" fill="#75219a"/>
<text x="62.40" y="554.60" font-size="3.9" fill="#75219a">R519G</text>
<circle cx="60.20" cy="557.70" r="1.6" fill="#ee2b25"/>
<text x="62.40" y="559.10" font-size="3.9" fill="#ee2b25">R519*</text>
<circle cx="77.60" cy="549.90" r="2.7" fill="#75219a"/>
<text x="77.60" y="551.36" font-size="4.05" font-weight="bold" fill="#fff" text-anchor="middle">2</text>
<text x="81.10" y="551.34" font-size="4.0" fill="#75219a">S541P</text>
<circle cx="77.60" cy="556.16" r="1.6" fill="#75219a"/>
<text x="79.80" y="557.56" font-size="3.9" fill="#75219a">S541G</text>
<circle cx="96.50" cy="549.90" r="2.7" fill="#75219a"/>
<text x="96.50" y="551.36" font-size="4.05" font-weight="bold" fill="#fff" text-anchor="middle">2</text>
<text x="100.00" y="551.34" font-size="4.0" fill="#75219a">G543R</text>
<circle cx="96.50" cy="556.16" r="1.6" fill="#75219a"/>
<text x="98.70" y="557.56" font-size="3.9" fill="#75219a">G543E</text>
<circle cx="117.30" cy="549.90" r="2.7" fill="#75219a"/>
<text x="117.30" y="551.36" font-size="4.05" font-weight="bold" fill="#fff" text-anchor="middle">2</text>
<text x="120.80" y="551.34" font-size="4.0" fill="#75219a">W607C</text>
<circle cx="117.30" cy="556.16" r="1.6" fill="#ee2b25"/>
<text x="119.50" y="557.56" font-size="3.9" fill="#ee2b25">W607*</text>
<circle cx="138.00" cy="548.70" r="1.6" fill="#75219a"/>
<text x="140.20" y="550.10" font-size="3.9" fill="#75219a">N615K</text>
<circle cx="138.00" cy="553.20" r="1.6" fill="#75219a"/>
<text x="140.20" y="554.60" font-size="3.9" fill="#75219a">N615I</text>
<circle cx="138.00" cy="557.70" r="1.6" fill="#75219a"/>
<text x="140.20" y="559.10" font-size="3.9" fill="#75219a">N615S</text>
<circle cx="156.20" cy="549.90" r="2.7" fill="#75219a"/>
<text x="156.20" y="551.36" font-size="4.05" font-weight="bold" fill="#fff" text-anchor="middle">2</text>
<text x="159.70" y="551.34" font-size="4.0" fill="#75219a">N616K</text>
<circle cx="156.20" cy="556.16" r="1.6" fill="#75219a"/>
<text x="158.40" y="557.56" font-size="3.9" fill="#75219a">N616S</text>
<circle cx="174.20" cy="548.70" r="1.6" fill="#75219a"/>
<text x="176.40" y="550.10" font-size="3.9" fill="#75219a">M730R</text>
<circle cx="174.20" cy="553.20" r="1.6" fill="#75219a"/>
<text x="176.40" y="554.60" font-size="3.9" fill="#75219a">M730T</text>
<circle cx="191.70" cy="548.70" r="1.6" fill="#75219a"/>
<text x="193.90" y="550.10" font-size="3.9" fill="#75219a">C746W</text>
<circle cx="191.70" cy="553.20" r="1.6" fill="#75219a"/>
<text x="193.90" y="554.60" font-size="3.9" fill="#75219a">C746Y</text>
<circle cx="191.70" cy="557.70" r="1.6" fill="#75219a"/>
<text x="193.90" y="559.10" font-size="3.9" fill="#75219a">C746S</text>
<circle cx="209.20" cy="548.70" r="1.6" fill="#75219a"/>
<text x="211.40" y="550.10" font-size="3.9" fill="#75219a">I751T</text>
<circle cx="209.20" cy="553.20" r="1.6" fill="#75219a"/>
<text x="211.40" y="554.60" font-size="3.9" fill="#75219a">I751L</text>
<circle cx="209.20" cy="557.70" r="1.6" fill="#c24a4a"/>
<text x="211.40" y="559.10" font-size="3.9" fill="#c24a4a">I751Pfs*30</text>
<circle cx="232.60" cy="548.70" r="1.6" fill="#75219a"/>
<text x="234.80" y="550.10" font-size="3.9" fill="#75219a">M818I</text>
<circle cx="232.60" cy="553.20" r="1.6" fill="#75219a"/>
<text x="234.80" y="554.60" font-size="3.9" fill="#75219a">M818T</text>
<circle cx="232.60" cy="557.70" r="1.6" fill="#75219a"/>
<text x="234.80" y="559.10" font-size="3.9" fill="#75219a">M818K</text>
<circle cx="232.60" cy="562.20" r="1.6" fill="#75219a"/>
<text x="234.80" y="563.60" font-size="3.9" fill="#75219a">M818L</text>
<circle cx="250.60" cy="549.90" r="2.7" fill="#75219a"/>
<text x="250.60" y="551.36" font-size="4.05" font-weight="bold" fill="#fff" text-anchor="middle">2</text>
<text x="254.10" y="551.34" font-size="4.0" fill="#75219a">G820R</text>
<circle cx="250.60" cy="555.06" r="1.6" fill="#75219a"/>
<text x="252.80" y="556.46" font-size="3.9" fill="#75219a">G820V</text>
<circle cx="250.60" cy="559.56" r="1.6" fill="#75219a"/>
<text x="252.80" y="560.96" font-size="3.9" fill="#75219a">G820A</text>
<circle cx="250.60" cy="564.06" r="1.6" fill="#75219a"/>
<text x="252.80" y="565.46" font-size="3.9" fill="#75219a">G820E</text>
<path d="M380.40,497.50 C380.65,497.26 381.40,496.50 381.90,496.07 C382.40,495.64 382.90,494.90 383.40,494.90 C383.90,494.90 384.40,495.64 384.90,496.07 C385.40,496.50 386.15,497.26 386.40,497.50 Z" fill="#d3e5f5" stroke="none"/>
<path d="M380.40,497.50 C380.65,497.26 381.40,496.50 381.90,496.07 C382.40,495.64 382.90,494.90 383.40,494.90 C383.90,494.90 384.40,495.64 384.90,496.07 C385.40,496.50 386.15,497.26 386.40,497.50" fill="none" stroke="#333" stroke-width="0.7"/>
<path d="M397.40,497.50 C397.65,497.26 398.40,496.50 398.90,496.07 C399.40,495.64 399.90,494.90 400.40,494.90 C400.90,494.90 401.40,495.64 401.90,496.07 C402.40,496.50 403.15,497.26 403.40,497.50 Z" fill="#d3e5f5" stroke="none"/>
<path d="M397.40,497.50 C397.65,497.26 398.40,496.50 398.90,496.07 C399.40,495.64 399.90,494.90 400.40,494.90 C400.90,494.90 401.40,495.64 401.90,496.07 C402.40,496.50 403.15,497.26 403.40,497.50" fill="none" stroke="#333" stroke-width="0.7"/>
<path d="M459.20,497.50 C459.45,497.26 460.20,496.50 460.70,496.07 C461.20,495.64 461.70,494.90 462.20,494.90 C462.70,494.90 463.20,495.64 463.70,496.07 C464.20,496.50 464.95,497.26 465.20,497.50 Z" fill="#d3e5f5" stroke="none"/>
<path d="M459.20,497.50 C459.45,497.26 460.20,496.50 460.70,496.07 C461.20,495.64 461.70,494.90 462.20,494.90 C462.70,494.90 463.20,495.64 463.70,496.07 C464.20,496.50 464.95,497.26 465.20,497.50" fill="none" stroke="#333" stroke-width="0.7"/>
<path d="M489.20,497.50 C489.57,496.84 490.70,494.74 491.45,493.54 C492.20,492.34 492.95,490.30 493.70,490.30 C494.45,490.30 495.20,492.34 495.95,493.54 C496.70,494.74 497.82,496.84 498.20,497.50 Z" fill="#d3e5f5" stroke="none"/>
<path d="M489.20,497.50 C489.57,496.84 490.70,494.74 491.45,493.54 C492.20,492.34 492.95,490.30 493.70,490.30 C494.45,490.30 495.20,492.34 495.95,493.54 C496.70,494.74 497.82,496.84 498.20,497.50" fill="none" stroke="#333" stroke-width="0.7"/>
<path d="M555.40,497.50 C555.85,496.46 557.20,493.17 558.10,491.29 C559.00,489.40 559.90,486.20 560.80,486.20 C561.70,486.20 562.60,489.40 563.50,491.29 C564.40,493.17 565.75,496.46 566.20,497.50 Z" fill="#d3e5f5" stroke="none"/>
<path d="M555.40,497.50 C555.85,496.46 557.20,493.17 558.10,491.29 C559.00,489.40 559.90,486.20 560.80,486.20 C561.70,486.20 562.60,489.40 563.50,491.29 C564.40,493.17 565.75,496.46 566.20,497.50" fill="none" stroke="#333" stroke-width="0.7"/>
<path d="M639.60,497.50 C639.85,497.24 640.60,496.43 641.10,495.96 C641.60,495.49 642.10,494.70 642.60,494.70 C643.10,494.70 643.60,495.49 644.10,495.96 C644.60,496.43 645.35,497.24 645.60,497.50 Z" fill="#d3e5f5" stroke="none"/>
<path d="M639.60,497.50 C639.85,497.24 640.60,496.43 641.10,495.96 C641.60,495.49 642.10,494.70 642.60,494.70 C643.10,494.70 643.60,495.49 644.10,495.96 C644.60,496.43 645.35,497.24 645.60,497.50" fill="none" stroke="#333" stroke-width="0.7"/>
<path d="M662.05,497.50 C662.45,496.58 663.67,493.67 664.48,492.00 C665.28,490.33 666.09,487.50 666.90,487.50 C667.71,487.50 668.52,490.33 669.32,492.00 C670.13,493.67 671.35,496.58 671.75,497.50 Z" fill="#d3e5f5" stroke="none"/>
<path d="M662.05,497.50 C662.45,496.58 663.67,493.67 664.48,492.00 C665.28,490.33 666.09,487.50 666.90,487.50 C667.71,487.50 668.52,490.33 669.32,492.00 C670.13,493.67 671.35,496.58 671.75,497.50" fill="none" stroke="#333" stroke-width="0.7"/>
<path d="M510.50,497.50 C511.00,495.42 512.58,492.92 513.50,485.00 C514.42,477.08 515.18,459.25 516.00,450.00 C516.82,440.75 517.60,429.50 518.40,429.50 C519.20,429.50 519.95,440.75 520.80,450.00 C521.65,459.25 522.47,477.08 523.50,485.00 C524.53,492.92 526.42,495.42 527.00,497.50 Z" fill="#d3e5f5"/>
<path d="M510.50,497.50 C511.00,495.42 512.58,492.92 513.50,485.00 C514.42,477.08 515.18,459.25 516.00,450.00 C516.82,440.75 517.60,429.50 518.40,429.50 C519.20,429.50 519.95,440.75 520.80,450.00 C521.65,459.25 522.47,477.08 523.50,485.00 C524.53,492.92 526.42,495.42 527.00,497.50" fill="none" stroke="#333" stroke-width="0.7"/>
<rect x="350.00" y="497.80" width="334.40" height="12.10" fill="#fff" stroke="#b4b4b4" stroke-width="1.1"/>
<line x1="349.50" y1="497.80" x2="684.90" y2="497.80" stroke="#8c8c8c" stroke-width="1.0"/>
<rect x="513.00" y="498.30" width="5.40" height="11.20" fill="#aec2f7"/>
<rect x="559.40" y="498.30" width="6.20" height="11.20" fill="#f4a3a3"/>
<line x1="388.10" y1="498.00" x2="388.10" y2="508.70" stroke="#444" stroke-width="0.6" stroke-dasharray="0.9,1.0"/>
<line x1="440.40" y1="498.00" x2="440.40" y2="508.70" stroke="#444" stroke-width="0.6" stroke-dasharray="0.9,1.0"/>
<line x1="450.30" y1="498.00" x2="450.30" y2="508.70" stroke="#444" stroke-width="0.6" stroke-dasharray="0.9,1.0"/>
<line x1="468.00" y1="498.00" x2="468.00" y2="508.70" stroke="#444" stroke-width="0.6" stroke-dasharray="0.9,1.0"/>
<line x1="482.20" y1="498.00" x2="482.20" y2="508.70" stroke="#444" stroke-width="0.6" stroke-dasharray="0.9,1.0"/>
<line x1="493.70" y1="498.00" x2="493.70" y2="508.70" stroke="#444" stroke-width="0.6" stroke-dasharray="0.9,1.0"/>
<line x1="505.00" y1="498.00" x2="505.00" y2="508.70" stroke="#444" stroke-width="0.6" stroke-dasharray="0.9,1.0"/>
<line x1="537.30" y1="498.00" x2="537.30" y2="508.70" stroke="#444" stroke-width="0.6" stroke-dasharray="0.9,1.0"/>
<line x1="552.70" y1="498.00" x2="552.70" y2="508.70" stroke="#444" stroke-width="0.6" stroke-dasharray="0.9,1.0"/>
<line x1="571.60" y1="498.00" x2="571.60" y2="508.70" stroke="#444" stroke-width="0.6" stroke-dasharray="0.9,1.0"/>
<text transform="translate(374.95,507.60) scale(0.72,1)" font-size="5.2" text-anchor="middle" fill="#222">100</text>
<text transform="translate(399.90,507.60) scale(0.72,1)" font-size="5.2" text-anchor="middle" fill="#222">200</text>
<text transform="translate(424.85,507.60) scale(0.72,1)" font-size="5.2" text-anchor="middle" fill="#222">300</text>
<text transform="translate(449.80,507.60) scale(0.72,1)" font-size="5.2" text-anchor="middle" fill="#222">400</text>
<text transform="translate(474.75,507.60) scale(0.72,1)" font-size="5.2" text-anchor="middle" fill="#222">500</text>
<text transform="translate(499.70,507.60) scale(0.72,1)" font-size="5.2" text-anchor="middle" fill="#222">600</text>
<text transform="translate(524.65,507.60) scale(0.72,1)" font-size="5.2" text-anchor="middle" fill="#222">700</text>
<text transform="translate(549.60,507.60) scale(0.72,1)" font-size="5.2" text-anchor="middle" fill="#222">800</text>
<text transform="translate(574.55,507.60) scale(0.72,1)" font-size="5.2" text-anchor="middle" fill="#222">900</text>
<text transform="translate(599.50,507.60) scale(0.72,1)" font-size="5.2" text-anchor="middle" fill="#222">1000</text>
<text transform="translate(624.45,507.60) scale(0.72,1)" font-size="5.2" text-anchor="middle" fill="#222">1100</text>
<text transform="translate(649.40,507.60) scale(0.72,1)" font-size="5.2" text-anchor="middle" fill="#222">1200</text>
<text transform="translate(674.35,507.60) scale(0.72,1)" font-size="5.2" text-anchor="middle" fill="#222">1300</text>
<line x1="560.8" y1="484.3" x2="560.8" y2="497.5" stroke="#75219a" stroke-width="0.6" opacity="0.8"/>
<circle cx="560.8" cy="484.3" r="1.6" fill="#75219a"/>
<text x="563.00" y="485.60" font-size="3.8" fill="#75219a" >Asn804His</text>
<path d="M461.6,509.8 V518 L461.6,530 V536.7" fill="none" stroke="#75219a" stroke-width="0.6" opacity="0.75"/>
<path d="M493.3,509.8 V518 L492.7,530 V536.7" fill="none" stroke="#75219a" stroke-width="0.6" opacity="0.75"/>
<path d="M493.3,509.8 V518 L497.2,530 V536.7" fill="none" stroke="#75219a" stroke-width="0.6" opacity="0.75"/>
<path d="M516.5,509.8 V518 L509,530 V536.7" fill="none" stroke="#75219a" stroke-width="0.6" opacity="0.75"/>
<path d="M517.2,509.8 V518 L513.8,530 V536.7" fill="none" stroke="#75219a" stroke-width="0.6" opacity="0.75"/>
<path d="M518,509.8 V518 L518.2,530 V536.7" fill="none" stroke="#75219a" stroke-width="0.6" opacity="0.75"/>
<path d="M518.6,509.8 V518 L522.3,530 V536.7" fill="none" stroke="#75219a" stroke-width="0.6" opacity="0.75"/>
<path d="M519.2,509.8 V518 L527,530 V536.7" fill="none" stroke="#75219a" stroke-width="0.6" opacity="0.75"/>
<path d="M523.4,509.8 V518 L531.5,530 V536.7" fill="none" stroke="#75219a" stroke-width="0.6" opacity="0.75"/>
<path d="M543.5,509.8 V518 L549.5,530 V536.7" fill="none" stroke="#75219a" stroke-width="0.6" opacity="0.75"/>
<path d="M545.3,509.8 V518 L553.6,530 V536.7" fill="none" stroke="#75219a" stroke-width="0.6" opacity="0.75"/>
<path d="M559.1,509.8 V518 L559.1,530 V536.7" fill="none" stroke="#75219a" stroke-width="0.6" opacity="0.75"/>
<path d="M667,509.8 V518 L667,530 V536.7" fill="none" stroke="#75219a" stroke-width="0.6" opacity="0.75"/>
<circle cx="461.6" cy="536.7" r="1.75" fill="#75219a"/>
<circle cx="492.7" cy="536.7" r="1.75" fill="#75219a"/>
<circle cx="497.2" cy="536.7" r="1.75" fill="#75219a"/>
<circle cx="509" cy="536.7" r="1.75" fill="#75219a"/>
<circle cx="513.8" cy="536.7" r="1.75" fill="#75219a"/>
<circle cx="518.2" cy="536.7" r="1.75" fill="#75219a"/>
<circle cx="522.3" cy="536.7" r="1.75" fill="#75219a"/>
<circle cx="527" cy="536.7" r="1.75" fill="#75219a"/>
<circle cx="531.5" cy="536.7" r="1.75" fill="#75219a"/>
<circle cx="549.5" cy="536.7" r="1.75" fill="#75219a"/>
<circle cx="553.6" cy="536.7" r="1.75" fill="#75219a"/>
<circle cx="559.1" cy="536.7" r="1.75" fill="#75219a"/>
<circle cx="667" cy="536.7" r="1.75" fill="#75219a"/>
<circle cx="531.5" cy="541.4" r="1.75" fill="#75219a"/>
<text x="464.00" y="538.00" font-size="3.8" fill="#75219a" >Q449N</text>
<text x="533.90" y="538.00" font-size="3.8" fill="#75219a" >M681V</text>
<text x="561.50" y="538.00" font-size="3.8" fill="#75219a" >S837R</text>
<text x="669.40" y="538.00" font-size="3.8" fill="#75219a" >S1271L</text>
<text x="533.90" y="542.70" font-size="3.8" fill="#75219a" >M681I</text>
<text transform="translate(491.40,539.10) rotate(90)" font-size="3.7" fill="#75219a">S573F</text>
<text transform="translate(495.90,539.10) rotate(90)" font-size="3.7" fill="#75219a">S573L</text>
<text transform="translate(507.70,539.10) rotate(90)" font-size="3.7" fill="#75219a">N669Y</text>
<text transform="translate(512.50,539.10) rotate(90)" font-size="3.7" fill="#75219a">V667I</text>
<text transform="translate(516.90,539.10) rotate(90)" font-size="3.7" fill="#75219a">M678I</text>
<text transform="translate(521.00,539.10) rotate(90)" font-size="3.7" fill="#75219a">L670F</text>
<text transform="translate(525.70,539.10) rotate(90)" font-size="3.7" fill="#75219a">M678V</text>
<text transform="translate(548.20,539.10) rotate(90)" font-size="3.7" fill="#75219a">S695K</text>
<text transform="translate(552.30,539.10) rotate(90)" font-size="3.7" fill="#75219a">T770I</text>
<text x="9.90" y="268.40" font-size="10.7" font-weight="bold" font-style="italic" fill="#000" >GRIN1</text>
<text x="348.70" y="269.30" font-size="10.7" font-weight="bold" font-style="italic" fill="#000" >GRIN2A</text>
<text x="6.70" y="438.80" font-size="10.7" font-weight="bold" font-style="italic" fill="#000" >GRIN2B</text>
<text x="348.70" y="439.00" font-size="10.7" font-weight="bold" font-style="italic" fill="#000" >GRIN2D</text>
<text x="0.70" y="316.30" font-size="6.2" font-weight="bold" fill="#000" >SNUH cohort</text>
<text x="351.80" y="316.20" font-size="6.2" font-weight="bold" fill="#000" >SNUH cohort</text>
<text x="6.20" y="490.60" font-size="6.2" font-weight="bold" fill="#000" >SNUH cohort</text>
<text x="351.80" y="489.00" font-size="6.2" font-weight="bold" fill="#000" >SNUH cohort</text>
<text x="2.00" y="361.80" font-size="6.2" font-weight="bold" fill="#000" >ClinVar variants</text>
<text x="351.80" y="361.60" font-size="6.2" font-weight="bold" fill="#000" >ClinVar variants</text>
<text x="6.20" y="527.50" font-size="6.2" font-weight="bold" fill="#000" >ClinVar variants</text>
<text x="351.80" y="525.70" font-size="6.2" font-weight="bold" fill="#000" >ClinVar variants</text>
</svg>
</body></html>
